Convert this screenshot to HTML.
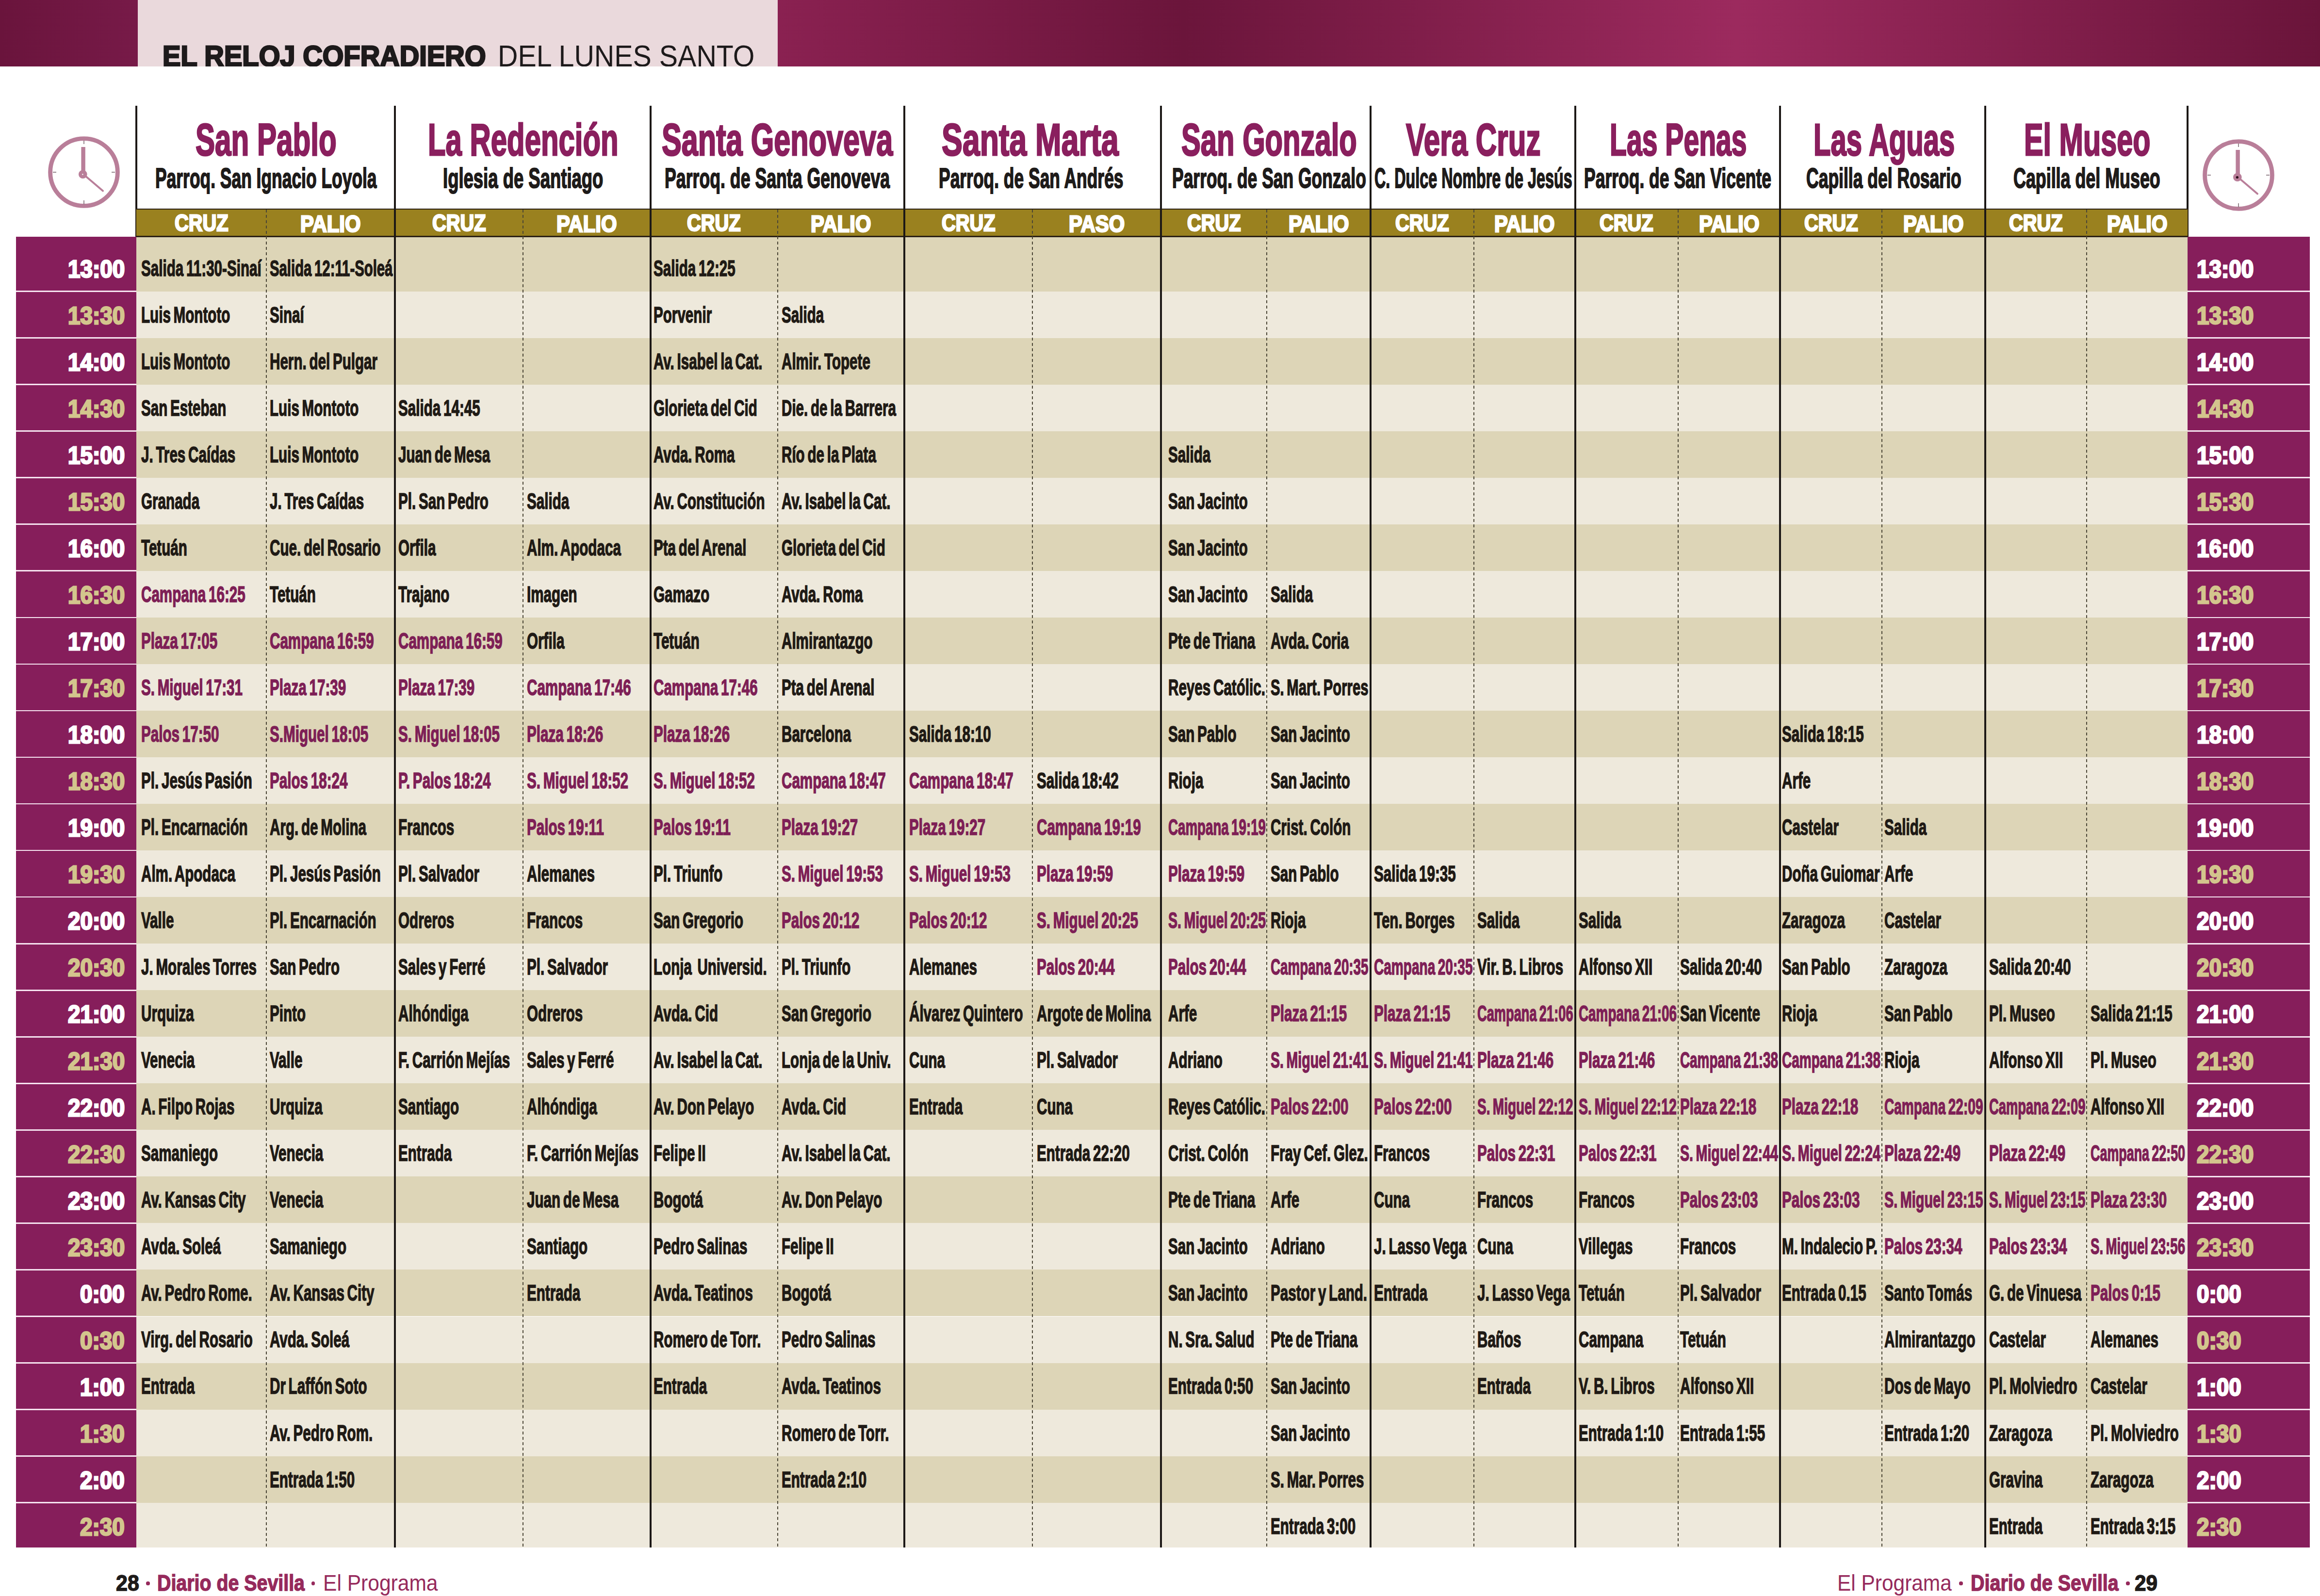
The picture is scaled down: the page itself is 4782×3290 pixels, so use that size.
<!DOCTYPE html><html><head><meta charset="utf-8"><title>El reloj cofradiero del Lunes Santo</title><style>
html,body{margin:0;padding:0;}
body{width:4782px;height:3290px;position:relative;overflow:hidden;background:#fff;font-family:"Liberation Sans", sans-serif;}
.t{position:absolute;white-space:pre;line-height:1;transform-origin:0 0;}
.r{position:absolute;}
.v{position:absolute;width:4px;background:#1c1816;}
.d{position:absolute;width:2px;background:repeating-linear-gradient(to bottom,#4a4535 0px,#4a4535 6px,transparent 6px,transparent 11px);}

</style></head><body>
<div class="r" style="left:0;top:0;width:4782px;height:137px;background:linear-gradient(to right,#8a2151 1603px,#6b153b 2440px,#9c2a5e 3580px,#6a143a 4782px);"></div>
<div class="r" style="left:0;top:0;width:284px;height:137px;background:linear-gradient(to right,#6a143c,#771a48);"></div>
<div class="r" style="left:284px;top:0;width:1319px;height:137px;background:#ead9dc;overflow:hidden;">
<div class="t" style="left:51.4px;top:86.1px;font-size:59.5px;color:#1d1a1b;font-weight:bold;transform:scaleX(0.9437);-webkit-text-stroke:3px #1d1a1b;">EL RELOJ COFRADIERO</div>
<div class="t" style="left:741.5px;top:83.7px;font-size:63px;color:#1d1a1b;font-weight:normal;transform:scaleX(0.9111);">DEL LUNES SANTO</div>
</div>
<div class="v" style="left:279.0px;top:218px;height:271.3px;"></div>
<div class="v" style="left:811.5px;top:218px;height:2972.0px;"></div>
<div class="v" style="left:1338.5px;top:218px;height:2972.0px;"></div>
<div class="v" style="left:1862.0px;top:218px;height:2972.0px;"></div>
<div class="v" style="left:2390.5px;top:218px;height:2972.0px;"></div>
<div class="v" style="left:2823.0px;top:218px;height:2972.0px;"></div>
<div class="v" style="left:3244.5px;top:218px;height:2972.0px;"></div>
<div class="v" style="left:3667.0px;top:218px;height:2972.0px;"></div>
<div class="v" style="left:4089.5px;top:218px;height:2972.0px;"></div>
<div class="v" style="left:4506.5px;top:218px;height:271.3px;"></div>
<div class="r" style="left:279.0px;top:429.7px;width:4231.5px;height:59.6px;background:#2a2014;"></div>
<div class="r" style="left:281.0px;top:432px;width:4227.5px;height:53.8px;background:#9a811f;"></div>
<div class="r" style="left:33px;top:487.5px;width:247.5px;height:2702.5px;background:#861e5b;"></div>
<div class="r" style="left:4508.5px;top:487.5px;width:252.5px;height:2702.5px;background:#861e5b;"></div>
<div class="r" style="left:281.0px;top:489.3px;width:4227.5px;height:111.3px;background:#ddd5b7;"></div>
<div class="r" style="left:281.0px;top:600.6px;width:4227.5px;height:96.0px;background:#eee9dc;"></div>
<div class="r" style="left:281.0px;top:696.6px;width:4227.5px;height:96.0px;background:#ddd5b7;"></div>
<div class="r" style="left:281.0px;top:792.7px;width:4227.5px;height:96.0px;background:#eee9dc;"></div>
<div class="r" style="left:281.0px;top:888.7px;width:4227.5px;height:96.0px;background:#ddd5b7;"></div>
<div class="r" style="left:281.0px;top:984.8px;width:4227.5px;height:96.0px;background:#eee9dc;"></div>
<div class="r" style="left:281.0px;top:1080.8px;width:4227.5px;height:96.0px;background:#ddd5b7;"></div>
<div class="r" style="left:281.0px;top:1176.8px;width:4227.5px;height:96.0px;background:#eee9dc;"></div>
<div class="r" style="left:281.0px;top:1272.9px;width:4227.5px;height:96.0px;background:#ddd5b7;"></div>
<div class="r" style="left:281.0px;top:1368.9px;width:4227.5px;height:96.0px;background:#eee9dc;"></div>
<div class="r" style="left:281.0px;top:1465.0px;width:4227.5px;height:96.0px;background:#ddd5b7;"></div>
<div class="r" style="left:281.0px;top:1561.0px;width:4227.5px;height:96.0px;background:#eee9dc;"></div>
<div class="r" style="left:281.0px;top:1657.0px;width:4227.5px;height:96.0px;background:#ddd5b7;"></div>
<div class="r" style="left:281.0px;top:1753.1px;width:4227.5px;height:96.0px;background:#eee9dc;"></div>
<div class="r" style="left:281.0px;top:1849.1px;width:4227.5px;height:96.0px;background:#ddd5b7;"></div>
<div class="r" style="left:281.0px;top:1945.2px;width:4227.5px;height:96.0px;background:#eee9dc;"></div>
<div class="r" style="left:281.0px;top:2041.2px;width:4227.5px;height:96.0px;background:#ddd5b7;"></div>
<div class="r" style="left:281.0px;top:2137.2px;width:4227.5px;height:96.0px;background:#eee9dc;"></div>
<div class="r" style="left:281.0px;top:2233.3px;width:4227.5px;height:96.0px;background:#ddd5b7;"></div>
<div class="r" style="left:281.0px;top:2329.3px;width:4227.5px;height:96.0px;background:#eee9dc;"></div>
<div class="r" style="left:281.0px;top:2425.4px;width:4227.5px;height:96.0px;background:#ddd5b7;"></div>
<div class="r" style="left:281.0px;top:2521.4px;width:4227.5px;height:96.0px;background:#eee9dc;"></div>
<div class="r" style="left:281.0px;top:2617.4px;width:4227.5px;height:96.0px;background:#ddd5b7;"></div>
<div class="r" style="left:281.0px;top:2713.5px;width:4227.5px;height:96.0px;background:#eee9dc;"></div>
<div class="r" style="left:281.0px;top:2809.5px;width:4227.5px;height:96.0px;background:#ddd5b7;"></div>
<div class="r" style="left:281.0px;top:2905.6px;width:4227.5px;height:96.0px;background:#eee9dc;"></div>
<div class="r" style="left:281.0px;top:3001.6px;width:4227.5px;height:96.0px;background:#ddd5b7;"></div>
<div class="r" style="left:281.0px;top:3097.6px;width:4227.5px;height:92.4px;background:#eee9dc;"></div>
<div class="r" style="left:33px;top:599.2px;width:247.5px;height:2.8px;background:#f6e4f0;"></div>
<div class="r" style="left:4508.5px;top:599.2px;width:252.5px;height:2.8px;background:#f6e4f0;"></div>
<div class="r" style="left:33px;top:695.2px;width:247.5px;height:2.8px;background:#f6e4f0;"></div>
<div class="r" style="left:4508.5px;top:695.2px;width:252.5px;height:2.8px;background:#f6e4f0;"></div>
<div class="r" style="left:33px;top:791.3px;width:247.5px;height:2.8px;background:#f6e4f0;"></div>
<div class="r" style="left:4508.5px;top:791.3px;width:252.5px;height:2.8px;background:#f6e4f0;"></div>
<div class="r" style="left:33px;top:887.3px;width:247.5px;height:2.8px;background:#f6e4f0;"></div>
<div class="r" style="left:4508.5px;top:887.3px;width:252.5px;height:2.8px;background:#f6e4f0;"></div>
<div class="r" style="left:33px;top:983.4px;width:247.5px;height:2.8px;background:#f6e4f0;"></div>
<div class="r" style="left:4508.5px;top:983.4px;width:252.5px;height:2.8px;background:#f6e4f0;"></div>
<div class="r" style="left:33px;top:1079.4px;width:247.5px;height:2.8px;background:#f6e4f0;"></div>
<div class="r" style="left:4508.5px;top:1079.4px;width:252.5px;height:2.8px;background:#f6e4f0;"></div>
<div class="r" style="left:33px;top:1175.4px;width:247.5px;height:2.8px;background:#f6e4f0;"></div>
<div class="r" style="left:4508.5px;top:1175.4px;width:252.5px;height:2.8px;background:#f6e4f0;"></div>
<div class="r" style="left:33px;top:1271.5px;width:247.5px;height:2.8px;background:#f6e4f0;"></div>
<div class="r" style="left:4508.5px;top:1271.5px;width:252.5px;height:2.8px;background:#f6e4f0;"></div>
<div class="r" style="left:33px;top:1367.5px;width:247.5px;height:2.8px;background:#f6e4f0;"></div>
<div class="r" style="left:4508.5px;top:1367.5px;width:252.5px;height:2.8px;background:#f6e4f0;"></div>
<div class="r" style="left:33px;top:1463.6px;width:247.5px;height:2.8px;background:#f6e4f0;"></div>
<div class="r" style="left:4508.5px;top:1463.6px;width:252.5px;height:2.8px;background:#f6e4f0;"></div>
<div class="r" style="left:33px;top:1559.6px;width:247.5px;height:2.8px;background:#f6e4f0;"></div>
<div class="r" style="left:4508.5px;top:1559.6px;width:252.5px;height:2.8px;background:#f6e4f0;"></div>
<div class="r" style="left:33px;top:1655.6px;width:247.5px;height:2.8px;background:#f6e4f0;"></div>
<div class="r" style="left:4508.5px;top:1655.6px;width:252.5px;height:2.8px;background:#f6e4f0;"></div>
<div class="r" style="left:33px;top:1751.7px;width:247.5px;height:2.8px;background:#f6e4f0;"></div>
<div class="r" style="left:4508.5px;top:1751.7px;width:252.5px;height:2.8px;background:#f6e4f0;"></div>
<div class="r" style="left:33px;top:1847.7px;width:247.5px;height:2.8px;background:#f6e4f0;"></div>
<div class="r" style="left:4508.5px;top:1847.7px;width:252.5px;height:2.8px;background:#f6e4f0;"></div>
<div class="r" style="left:33px;top:1943.8px;width:247.5px;height:2.8px;background:#f6e4f0;"></div>
<div class="r" style="left:4508.5px;top:1943.8px;width:252.5px;height:2.8px;background:#f6e4f0;"></div>
<div class="r" style="left:33px;top:2039.8px;width:247.5px;height:2.8px;background:#f6e4f0;"></div>
<div class="r" style="left:4508.5px;top:2039.8px;width:252.5px;height:2.8px;background:#f6e4f0;"></div>
<div class="r" style="left:33px;top:2135.8px;width:247.5px;height:2.8px;background:#f6e4f0;"></div>
<div class="r" style="left:4508.5px;top:2135.8px;width:252.5px;height:2.8px;background:#f6e4f0;"></div>
<div class="r" style="left:33px;top:2231.9px;width:247.5px;height:2.8px;background:#f6e4f0;"></div>
<div class="r" style="left:4508.5px;top:2231.9px;width:252.5px;height:2.8px;background:#f6e4f0;"></div>
<div class="r" style="left:33px;top:2327.9px;width:247.5px;height:2.8px;background:#f6e4f0;"></div>
<div class="r" style="left:4508.5px;top:2327.9px;width:252.5px;height:2.8px;background:#f6e4f0;"></div>
<div class="r" style="left:33px;top:2424.0px;width:247.5px;height:2.8px;background:#f6e4f0;"></div>
<div class="r" style="left:4508.5px;top:2424.0px;width:252.5px;height:2.8px;background:#f6e4f0;"></div>
<div class="r" style="left:33px;top:2520.0px;width:247.5px;height:2.8px;background:#f6e4f0;"></div>
<div class="r" style="left:4508.5px;top:2520.0px;width:252.5px;height:2.8px;background:#f6e4f0;"></div>
<div class="r" style="left:33px;top:2616.0px;width:247.5px;height:2.8px;background:#f6e4f0;"></div>
<div class="r" style="left:4508.5px;top:2616.0px;width:252.5px;height:2.8px;background:#f6e4f0;"></div>
<div class="r" style="left:33px;top:2712.1px;width:247.5px;height:2.8px;background:#f6e4f0;"></div>
<div class="r" style="left:4508.5px;top:2712.1px;width:252.5px;height:2.8px;background:#f6e4f0;"></div>
<div class="r" style="left:33px;top:2808.1px;width:247.5px;height:2.8px;background:#f6e4f0;"></div>
<div class="r" style="left:4508.5px;top:2808.1px;width:252.5px;height:2.8px;background:#f6e4f0;"></div>
<div class="r" style="left:33px;top:2904.2px;width:247.5px;height:2.8px;background:#f6e4f0;"></div>
<div class="r" style="left:4508.5px;top:2904.2px;width:252.5px;height:2.8px;background:#f6e4f0;"></div>
<div class="r" style="left:33px;top:3000.2px;width:247.5px;height:2.8px;background:#f6e4f0;"></div>
<div class="r" style="left:4508.5px;top:3000.2px;width:252.5px;height:2.8px;background:#f6e4f0;"></div>
<div class="r" style="left:33px;top:3096.2px;width:247.5px;height:2.8px;background:#f6e4f0;"></div>
<div class="r" style="left:4508.5px;top:3096.2px;width:252.5px;height:2.8px;background:#f6e4f0;"></div>
<div class="v" style="left:811.5px;top:429.7px;height:2760.3px;"></div>
<div class="v" style="left:1338.5px;top:429.7px;height:2760.3px;"></div>
<div class="v" style="left:1862.0px;top:429.7px;height:2760.3px;"></div>
<div class="v" style="left:2390.5px;top:429.7px;height:2760.3px;"></div>
<div class="v" style="left:2823.0px;top:429.7px;height:2760.3px;"></div>
<div class="v" style="left:3244.5px;top:429.7px;height:2760.3px;"></div>
<div class="v" style="left:3667.0px;top:429.7px;height:2760.3px;"></div>
<div class="v" style="left:4089.5px;top:429.7px;height:2760.3px;"></div>
<div class="d" style="left:547.5px;top:432px;height:2758.0px;"></div>
<div class="d" style="left:1077.0px;top:432px;height:2758.0px;"></div>
<div class="d" style="left:1601.5px;top:432px;height:2758.0px;"></div>
<div class="d" style="left:2127.0px;top:432px;height:2758.0px;"></div>
<div class="d" style="left:2610.0px;top:432px;height:2758.0px;"></div>
<div class="d" style="left:3037.0px;top:432px;height:2758.0px;"></div>
<div class="d" style="left:3457.5px;top:432px;height:2758.0px;"></div>
<div class="d" style="left:3877.5px;top:432px;height:2758.0px;"></div>
<div class="d" style="left:4300.0px;top:432px;height:2758.0px;"></div>
<div class="t" style="left:403.0px;top:242.3px;font-size:93px;color:#8a1f5e;font-weight:bold;transform:scaleX(0.6464);-webkit-text-stroke:3px #8a1f5e;">San Pablo</div>
<div class="t" style="left:319.6px;top:338.2px;font-size:58px;color:#1e1b1a;font-weight:bold;transform:scaleX(0.6106);-webkit-text-stroke:2px #1e1b1a;">Parroq. San Ignacio Loyola</div>
<div class="t" style="left:359.5px;top:434.5px;font-size:49px;color:#ffffff;font-weight:bold;transform:scaleX(0.8124);-webkit-text-stroke:3px #ffffff;">CRUZ</div>
<div class="t" style="left:618.8px;top:437.0px;font-size:49px;color:#ffffff;font-weight:bold;transform:scaleX(0.8515);-webkit-text-stroke:3px #ffffff;">PALIO</div>
<div class="t" style="left:882.0px;top:242.3px;font-size:93px;color:#8a1f5e;font-weight:bold;transform:scaleX(0.6439);-webkit-text-stroke:3px #8a1f5e;">La Redención</div>
<div class="t" style="left:913.0px;top:338.2px;font-size:58px;color:#1e1b1a;font-weight:bold;transform:scaleX(0.6288);-webkit-text-stroke:2px #1e1b1a;">Iglesia de Santiago</div>
<div class="t" style="left:890.5px;top:434.5px;font-size:49px;color:#ffffff;font-weight:bold;transform:scaleX(0.8124);-webkit-text-stroke:3px #ffffff;">CRUZ</div>
<div class="t" style="left:1147.0px;top:437.0px;font-size:49px;color:#ffffff;font-weight:bold;transform:scaleX(0.8515);-webkit-text-stroke:3px #ffffff;">PALIO</div>
<div class="t" style="left:1364.0px;top:242.3px;font-size:93px;color:#8a1f5e;font-weight:bold;transform:scaleX(0.658);-webkit-text-stroke:3px #8a1f5e;">Santa Genoveva</div>
<div class="t" style="left:1370.3px;top:338.2px;font-size:58px;color:#1e1b1a;font-weight:bold;transform:scaleX(0.6153);-webkit-text-stroke:2px #1e1b1a;">Parroq. de Santa Genoveva</div>
<div class="t" style="left:1416.2px;top:434.5px;font-size:49px;color:#ffffff;font-weight:bold;transform:scaleX(0.8124);-webkit-text-stroke:3px #ffffff;">CRUZ</div>
<div class="t" style="left:1671.0px;top:437.0px;font-size:49px;color:#ffffff;font-weight:bold;transform:scaleX(0.8515);-webkit-text-stroke:3px #ffffff;">PALIO</div>
<div class="t" style="left:1940.8px;top:242.3px;font-size:93px;color:#8a1f5e;font-weight:bold;transform:scaleX(0.6918);-webkit-text-stroke:3px #8a1f5e;">Santa Marta</div>
<div class="t" style="left:1935.2px;top:338.2px;font-size:58px;color:#1e1b1a;font-weight:bold;transform:scaleX(0.6107);-webkit-text-stroke:2px #1e1b1a;">Parroq. de San Andrés</div>
<div class="t" style="left:1940.7px;top:434.5px;font-size:49px;color:#ffffff;font-weight:bold;transform:scaleX(0.8124);-webkit-text-stroke:3px #ffffff;">CRUZ</div>
<div class="t" style="left:2202.7px;top:437.0px;font-size:49px;color:#ffffff;font-weight:bold;transform:scaleX(0.8515);-webkit-text-stroke:3px #ffffff;">PASO</div>
<div class="t" style="left:2434.6px;top:242.3px;font-size:93px;color:#8a1f5e;font-weight:bold;transform:scaleX(0.6422);-webkit-text-stroke:3px #8a1f5e;">San Gonzalo</div>
<div class="t" style="left:2416.1px;top:338.2px;font-size:58px;color:#1e1b1a;font-weight:bold;transform:scaleX(0.6111);-webkit-text-stroke:2px #1e1b1a;">Parroq. de San Gonzalo</div>
<div class="t" style="left:2446.5px;top:434.5px;font-size:49px;color:#ffffff;font-weight:bold;transform:scaleX(0.8124);-webkit-text-stroke:3px #ffffff;">CRUZ</div>
<div class="t" style="left:2655.8px;top:437.0px;font-size:49px;color:#ffffff;font-weight:bold;transform:scaleX(0.8515);-webkit-text-stroke:3px #ffffff;">PALIO</div>
<div class="t" style="left:2897.6px;top:242.3px;font-size:93px;color:#8a1f5e;font-weight:bold;transform:scaleX(0.6468);-webkit-text-stroke:3px #8a1f5e;">Vera Cruz</div>
<div class="t" style="left:2832.6px;top:338.2px;font-size:58px;color:#1e1b1a;font-weight:bold;transform:scaleX(0.5571);-webkit-text-stroke:2px #1e1b1a;">C. Dulce Nombre de Jesús</div>
<div class="t" style="left:2876.2px;top:434.5px;font-size:49px;color:#ffffff;font-weight:bold;transform:scaleX(0.8124);-webkit-text-stroke:3px #ffffff;">CRUZ</div>
<div class="t" style="left:3080.0px;top:437.0px;font-size:49px;color:#ffffff;font-weight:bold;transform:scaleX(0.8515);-webkit-text-stroke:3px #ffffff;">PALIO</div>
<div class="t" style="left:3317.7px;top:242.3px;font-size:93px;color:#8a1f5e;font-weight:bold;transform:scaleX(0.6143);-webkit-text-stroke:3px #8a1f5e;">Las Penas</div>
<div class="t" style="left:3264.9px;top:338.2px;font-size:58px;color:#1e1b1a;font-weight:bold;transform:scaleX(0.6119);-webkit-text-stroke:2px #1e1b1a;">Parroq. de San Vicente</div>
<div class="t" style="left:3297.2px;top:434.5px;font-size:49px;color:#ffffff;font-weight:bold;transform:scaleX(0.8124);-webkit-text-stroke:3px #ffffff;">CRUZ</div>
<div class="t" style="left:3501.5px;top:437.0px;font-size:49px;color:#ffffff;font-weight:bold;transform:scaleX(0.8515);-webkit-text-stroke:3px #ffffff;">PALIO</div>
<div class="t" style="left:3738.4px;top:242.3px;font-size:93px;color:#8a1f5e;font-weight:bold;transform:scaleX(0.6236);-webkit-text-stroke:3px #8a1f5e;">Las Aguas</div>
<div class="t" style="left:3722.6px;top:338.2px;font-size:58px;color:#1e1b1a;font-weight:bold;transform:scaleX(0.6124);-webkit-text-stroke:2px #1e1b1a;">Capilla del Rosario</div>
<div class="t" style="left:3718.5px;top:434.5px;font-size:49px;color:#ffffff;font-weight:bold;transform:scaleX(0.8124);-webkit-text-stroke:3px #ffffff;">CRUZ</div>
<div class="t" style="left:3922.8px;top:437.0px;font-size:49px;color:#ffffff;font-weight:bold;transform:scaleX(0.8515);-webkit-text-stroke:3px #ffffff;">PALIO</div>
<div class="t" style="left:4171.6px;top:242.3px;font-size:93px;color:#8a1f5e;font-weight:bold;transform:scaleX(0.638);-webkit-text-stroke:3px #8a1f5e;">El Museo</div>
<div class="t" style="left:4149.6px;top:338.2px;font-size:58px;color:#1e1b1a;font-weight:bold;transform:scaleX(0.6179);-webkit-text-stroke:2px #1e1b1a;">Capilla del Museo</div>
<div class="t" style="left:4141.0px;top:434.5px;font-size:49px;color:#ffffff;font-weight:bold;transform:scaleX(0.8124);-webkit-text-stroke:3px #ffffff;">CRUZ</div>
<div class="t" style="left:4342.5px;top:437.0px;font-size:49px;color:#ffffff;font-weight:bold;transform:scaleX(0.8515);-webkit-text-stroke:3px #ffffff;">PALIO</div>
<div class="t" style="left:139.9px;top:529.8px;font-size:50px;color:#ffffff;font-weight:bold;transform:scaleX(0.9169);-webkit-text-stroke:3px #ffffff;">13:00</div>
<div class="t" style="left:4528.4px;top:529.8px;font-size:50px;color:#ffffff;font-weight:bold;transform:scaleX(0.9169);-webkit-text-stroke:3px #ffffff;">13:00</div>
<div class="t" style="left:139.9px;top:625.8px;font-size:50px;color:#d3c58d;font-weight:bold;transform:scaleX(0.9169);-webkit-text-stroke:3px #d3c58d;">13:30</div>
<div class="t" style="left:4528.4px;top:625.8px;font-size:50px;color:#d3c58d;font-weight:bold;transform:scaleX(0.9169);-webkit-text-stroke:3px #d3c58d;">13:30</div>
<div class="t" style="left:139.9px;top:721.9px;font-size:50px;color:#ffffff;font-weight:bold;transform:scaleX(0.9169);-webkit-text-stroke:3px #ffffff;">14:00</div>
<div class="t" style="left:4528.4px;top:721.9px;font-size:50px;color:#ffffff;font-weight:bold;transform:scaleX(0.9169);-webkit-text-stroke:3px #ffffff;">14:00</div>
<div class="t" style="left:139.9px;top:817.9px;font-size:50px;color:#d3c58d;font-weight:bold;transform:scaleX(0.9169);-webkit-text-stroke:3px #d3c58d;">14:30</div>
<div class="t" style="left:4528.4px;top:817.9px;font-size:50px;color:#d3c58d;font-weight:bold;transform:scaleX(0.9169);-webkit-text-stroke:3px #d3c58d;">14:30</div>
<div class="t" style="left:139.9px;top:913.9px;font-size:50px;color:#ffffff;font-weight:bold;transform:scaleX(0.9169);-webkit-text-stroke:3px #ffffff;">15:00</div>
<div class="t" style="left:4528.4px;top:913.9px;font-size:50px;color:#ffffff;font-weight:bold;transform:scaleX(0.9169);-webkit-text-stroke:3px #ffffff;">15:00</div>
<div class="t" style="left:139.9px;top:1010.0px;font-size:50px;color:#d3c58d;font-weight:bold;transform:scaleX(0.9169);-webkit-text-stroke:3px #d3c58d;">15:30</div>
<div class="t" style="left:4528.4px;top:1010.0px;font-size:50px;color:#d3c58d;font-weight:bold;transform:scaleX(0.9169);-webkit-text-stroke:3px #d3c58d;">15:30</div>
<div class="t" style="left:139.9px;top:1106.0px;font-size:50px;color:#ffffff;font-weight:bold;transform:scaleX(0.9169);-webkit-text-stroke:3px #ffffff;">16:00</div>
<div class="t" style="left:4528.4px;top:1106.0px;font-size:50px;color:#ffffff;font-weight:bold;transform:scaleX(0.9169);-webkit-text-stroke:3px #ffffff;">16:00</div>
<div class="t" style="left:139.9px;top:1202.1px;font-size:50px;color:#d3c58d;font-weight:bold;transform:scaleX(0.9169);-webkit-text-stroke:3px #d3c58d;">16:30</div>
<div class="t" style="left:4528.4px;top:1202.1px;font-size:50px;color:#d3c58d;font-weight:bold;transform:scaleX(0.9169);-webkit-text-stroke:3px #d3c58d;">16:30</div>
<div class="t" style="left:139.9px;top:1298.1px;font-size:50px;color:#ffffff;font-weight:bold;transform:scaleX(0.9169);-webkit-text-stroke:3px #ffffff;">17:00</div>
<div class="t" style="left:4528.4px;top:1298.1px;font-size:50px;color:#ffffff;font-weight:bold;transform:scaleX(0.9169);-webkit-text-stroke:3px #ffffff;">17:00</div>
<div class="t" style="left:139.9px;top:1394.1px;font-size:50px;color:#d3c58d;font-weight:bold;transform:scaleX(0.9169);-webkit-text-stroke:3px #d3c58d;">17:30</div>
<div class="t" style="left:4528.4px;top:1394.1px;font-size:50px;color:#d3c58d;font-weight:bold;transform:scaleX(0.9169);-webkit-text-stroke:3px #d3c58d;">17:30</div>
<div class="t" style="left:139.9px;top:1490.2px;font-size:50px;color:#ffffff;font-weight:bold;transform:scaleX(0.9169);-webkit-text-stroke:3px #ffffff;">18:00</div>
<div class="t" style="left:4528.4px;top:1490.2px;font-size:50px;color:#ffffff;font-weight:bold;transform:scaleX(0.9169);-webkit-text-stroke:3px #ffffff;">18:00</div>
<div class="t" style="left:139.9px;top:1586.2px;font-size:50px;color:#d3c58d;font-weight:bold;transform:scaleX(0.9169);-webkit-text-stroke:3px #d3c58d;">18:30</div>
<div class="t" style="left:4528.4px;top:1586.2px;font-size:50px;color:#d3c58d;font-weight:bold;transform:scaleX(0.9169);-webkit-text-stroke:3px #d3c58d;">18:30</div>
<div class="t" style="left:139.9px;top:1682.3px;font-size:50px;color:#ffffff;font-weight:bold;transform:scaleX(0.9169);-webkit-text-stroke:3px #ffffff;">19:00</div>
<div class="t" style="left:4528.4px;top:1682.3px;font-size:50px;color:#ffffff;font-weight:bold;transform:scaleX(0.9169);-webkit-text-stroke:3px #ffffff;">19:00</div>
<div class="t" style="left:139.9px;top:1778.3px;font-size:50px;color:#d3c58d;font-weight:bold;transform:scaleX(0.9169);-webkit-text-stroke:3px #d3c58d;">19:30</div>
<div class="t" style="left:4528.4px;top:1778.3px;font-size:50px;color:#d3c58d;font-weight:bold;transform:scaleX(0.9169);-webkit-text-stroke:3px #d3c58d;">19:30</div>
<div class="t" style="left:139.9px;top:1874.3px;font-size:50px;color:#ffffff;font-weight:bold;transform:scaleX(0.9169);-webkit-text-stroke:3px #ffffff;">20:00</div>
<div class="t" style="left:4528.4px;top:1874.3px;font-size:50px;color:#ffffff;font-weight:bold;transform:scaleX(0.9169);-webkit-text-stroke:3px #ffffff;">20:00</div>
<div class="t" style="left:139.9px;top:1970.4px;font-size:50px;color:#d3c58d;font-weight:bold;transform:scaleX(0.9169);-webkit-text-stroke:3px #d3c58d;">20:30</div>
<div class="t" style="left:4528.4px;top:1970.4px;font-size:50px;color:#d3c58d;font-weight:bold;transform:scaleX(0.9169);-webkit-text-stroke:3px #d3c58d;">20:30</div>
<div class="t" style="left:139.9px;top:2066.4px;font-size:50px;color:#ffffff;font-weight:bold;transform:scaleX(0.9169);-webkit-text-stroke:3px #ffffff;">21:00</div>
<div class="t" style="left:4528.4px;top:2066.4px;font-size:50px;color:#ffffff;font-weight:bold;transform:scaleX(0.9169);-webkit-text-stroke:3px #ffffff;">21:00</div>
<div class="t" style="left:139.9px;top:2162.5px;font-size:50px;color:#d3c58d;font-weight:bold;transform:scaleX(0.9169);-webkit-text-stroke:3px #d3c58d;">21:30</div>
<div class="t" style="left:4528.4px;top:2162.5px;font-size:50px;color:#d3c58d;font-weight:bold;transform:scaleX(0.9169);-webkit-text-stroke:3px #d3c58d;">21:30</div>
<div class="t" style="left:139.9px;top:2258.5px;font-size:50px;color:#ffffff;font-weight:bold;transform:scaleX(0.9169);-webkit-text-stroke:3px #ffffff;">22:00</div>
<div class="t" style="left:4528.4px;top:2258.5px;font-size:50px;color:#ffffff;font-weight:bold;transform:scaleX(0.9169);-webkit-text-stroke:3px #ffffff;">22:00</div>
<div class="t" style="left:139.9px;top:2354.5px;font-size:50px;color:#d3c58d;font-weight:bold;transform:scaleX(0.9169);-webkit-text-stroke:3px #d3c58d;">22:30</div>
<div class="t" style="left:4528.4px;top:2354.5px;font-size:50px;color:#d3c58d;font-weight:bold;transform:scaleX(0.9169);-webkit-text-stroke:3px #d3c58d;">22:30</div>
<div class="t" style="left:139.9px;top:2450.6px;font-size:50px;color:#ffffff;font-weight:bold;transform:scaleX(0.9169);-webkit-text-stroke:3px #ffffff;">23:00</div>
<div class="t" style="left:4528.4px;top:2450.6px;font-size:50px;color:#ffffff;font-weight:bold;transform:scaleX(0.9169);-webkit-text-stroke:3px #ffffff;">23:00</div>
<div class="t" style="left:139.9px;top:2546.6px;font-size:50px;color:#d3c58d;font-weight:bold;transform:scaleX(0.9169);-webkit-text-stroke:3px #d3c58d;">23:30</div>
<div class="t" style="left:4528.4px;top:2546.6px;font-size:50px;color:#d3c58d;font-weight:bold;transform:scaleX(0.9169);-webkit-text-stroke:3px #d3c58d;">23:30</div>
<div class="t" style="left:165.3px;top:2642.7px;font-size:50px;color:#ffffff;font-weight:bold;transform:scaleX(0.9169);-webkit-text-stroke:3px #ffffff;">0:00</div>
<div class="t" style="left:4528.4px;top:2642.7px;font-size:50px;color:#ffffff;font-weight:bold;transform:scaleX(0.9169);-webkit-text-stroke:3px #ffffff;">0:00</div>
<div class="t" style="left:165.3px;top:2738.7px;font-size:50px;color:#d3c58d;font-weight:bold;transform:scaleX(0.9169);-webkit-text-stroke:3px #d3c58d;">0:30</div>
<div class="t" style="left:4528.4px;top:2738.7px;font-size:50px;color:#d3c58d;font-weight:bold;transform:scaleX(0.9169);-webkit-text-stroke:3px #d3c58d;">0:30</div>
<div class="t" style="left:165.3px;top:2834.7px;font-size:50px;color:#ffffff;font-weight:bold;transform:scaleX(0.9169);-webkit-text-stroke:3px #ffffff;">1:00</div>
<div class="t" style="left:4528.4px;top:2834.7px;font-size:50px;color:#ffffff;font-weight:bold;transform:scaleX(0.9169);-webkit-text-stroke:3px #ffffff;">1:00</div>
<div class="t" style="left:165.3px;top:2930.8px;font-size:50px;color:#d3c58d;font-weight:bold;transform:scaleX(0.9169);-webkit-text-stroke:3px #d3c58d;">1:30</div>
<div class="t" style="left:4528.4px;top:2930.8px;font-size:50px;color:#d3c58d;font-weight:bold;transform:scaleX(0.9169);-webkit-text-stroke:3px #d3c58d;">1:30</div>
<div class="t" style="left:165.3px;top:3026.8px;font-size:50px;color:#ffffff;font-weight:bold;transform:scaleX(0.9169);-webkit-text-stroke:3px #ffffff;">2:00</div>
<div class="t" style="left:4528.4px;top:3026.8px;font-size:50px;color:#ffffff;font-weight:bold;transform:scaleX(0.9169);-webkit-text-stroke:3px #ffffff;">2:00</div>
<div class="t" style="left:165.3px;top:3122.9px;font-size:50px;color:#d3c58d;font-weight:bold;transform:scaleX(0.9169);-webkit-text-stroke:3px #d3c58d;">2:30</div>
<div class="t" style="left:4528.4px;top:3122.9px;font-size:50px;color:#d3c58d;font-weight:bold;transform:scaleX(0.9169);-webkit-text-stroke:3px #d3c58d;">2:30</div>
<div class="t" style="left:290.5px;top:529.5px;font-size:46.8px;color:#1f1a15;font-weight:bold;transform:scaleX(0.633);-webkit-text-stroke:1.6px #1f1a15;word-spacing:-4px;">Salida 11:30-Sinaí</div>
<div class="t" style="left:290.5px;top:625.5px;font-size:46.8px;color:#1f1a15;font-weight:bold;transform:scaleX(0.633);-webkit-text-stroke:1.6px #1f1a15;word-spacing:-4px;">Luis Montoto</div>
<div class="t" style="left:290.5px;top:721.6px;font-size:46.8px;color:#1f1a15;font-weight:bold;transform:scaleX(0.633);-webkit-text-stroke:1.6px #1f1a15;word-spacing:-4px;">Luis Montoto</div>
<div class="t" style="left:290.5px;top:817.6px;font-size:46.8px;color:#1f1a15;font-weight:bold;transform:scaleX(0.633);-webkit-text-stroke:1.6px #1f1a15;word-spacing:-4px;">San Esteban</div>
<div class="t" style="left:290.5px;top:913.6px;font-size:46.8px;color:#1f1a15;font-weight:bold;transform:scaleX(0.633);-webkit-text-stroke:1.6px #1f1a15;word-spacing:-4px;">J. Tres Caídas</div>
<div class="t" style="left:290.5px;top:1009.7px;font-size:46.8px;color:#1f1a15;font-weight:bold;transform:scaleX(0.633);-webkit-text-stroke:1.6px #1f1a15;word-spacing:-4px;">Granada</div>
<div class="t" style="left:290.5px;top:1105.7px;font-size:46.8px;color:#1f1a15;font-weight:bold;transform:scaleX(0.633);-webkit-text-stroke:1.6px #1f1a15;word-spacing:-4px;">Tetuán</div>
<div class="t" style="left:290.5px;top:1201.8px;font-size:46.8px;color:#7e1f56;font-weight:bold;transform:scaleX(0.633);-webkit-text-stroke:1.6px #7e1f56;word-spacing:-4px;">Campana 16:25</div>
<div class="t" style="left:290.5px;top:1297.8px;font-size:46.8px;color:#7e1f56;font-weight:bold;transform:scaleX(0.633);-webkit-text-stroke:1.6px #7e1f56;word-spacing:-4px;">Plaza 17:05</div>
<div class="t" style="left:290.5px;top:1393.8px;font-size:46.8px;color:#7e1f56;font-weight:bold;transform:scaleX(0.633);-webkit-text-stroke:1.6px #7e1f56;word-spacing:-4px;">S. Miguel 17:31</div>
<div class="t" style="left:290.5px;top:1489.9px;font-size:46.8px;color:#7e1f56;font-weight:bold;transform:scaleX(0.633);-webkit-text-stroke:1.6px #7e1f56;word-spacing:-4px;">Palos 17:50</div>
<div class="t" style="left:290.5px;top:1585.9px;font-size:46.8px;color:#1f1a15;font-weight:bold;transform:scaleX(0.633);-webkit-text-stroke:1.6px #1f1a15;word-spacing:-4px;">Pl. Jesús Pasión</div>
<div class="t" style="left:290.5px;top:1682.0px;font-size:46.8px;color:#1f1a15;font-weight:bold;transform:scaleX(0.633);-webkit-text-stroke:1.6px #1f1a15;word-spacing:-4px;">Pl. Encarnación</div>
<div class="t" style="left:290.5px;top:1778.0px;font-size:46.8px;color:#1f1a15;font-weight:bold;transform:scaleX(0.633);-webkit-text-stroke:1.6px #1f1a15;word-spacing:-4px;">Alm. Apodaca</div>
<div class="t" style="left:290.5px;top:1874.0px;font-size:46.8px;color:#1f1a15;font-weight:bold;transform:scaleX(0.633);-webkit-text-stroke:1.6px #1f1a15;word-spacing:-4px;">Valle</div>
<div class="t" style="left:290.5px;top:1970.1px;font-size:46.8px;color:#1f1a15;font-weight:bold;transform:scaleX(0.633);-webkit-text-stroke:1.6px #1f1a15;word-spacing:-4px;">J. Morales Torres</div>
<div class="t" style="left:290.5px;top:2066.1px;font-size:46.8px;color:#1f1a15;font-weight:bold;transform:scaleX(0.633);-webkit-text-stroke:1.6px #1f1a15;word-spacing:-4px;">Urquiza</div>
<div class="t" style="left:290.5px;top:2162.2px;font-size:46.8px;color:#1f1a15;font-weight:bold;transform:scaleX(0.633);-webkit-text-stroke:1.6px #1f1a15;word-spacing:-4px;">Venecia</div>
<div class="t" style="left:290.5px;top:2258.2px;font-size:46.8px;color:#1f1a15;font-weight:bold;transform:scaleX(0.633);-webkit-text-stroke:1.6px #1f1a15;word-spacing:-4px;">A. Filpo Rojas</div>
<div class="t" style="left:290.5px;top:2354.2px;font-size:46.8px;color:#1f1a15;font-weight:bold;transform:scaleX(0.633);-webkit-text-stroke:1.6px #1f1a15;word-spacing:-4px;">Samaniego</div>
<div class="t" style="left:290.5px;top:2450.3px;font-size:46.8px;color:#1f1a15;font-weight:bold;transform:scaleX(0.633);-webkit-text-stroke:1.6px #1f1a15;word-spacing:-4px;">Av. Kansas City</div>
<div class="t" style="left:290.5px;top:2546.3px;font-size:46.8px;color:#1f1a15;font-weight:bold;transform:scaleX(0.633);-webkit-text-stroke:1.6px #1f1a15;word-spacing:-4px;">Avda. Soleá</div>
<div class="t" style="left:290.5px;top:2642.4px;font-size:46.8px;color:#1f1a15;font-weight:bold;transform:scaleX(0.633);-webkit-text-stroke:1.6px #1f1a15;word-spacing:-4px;">Av. Pedro Rome.</div>
<div class="t" style="left:290.5px;top:2738.4px;font-size:46.8px;color:#1f1a15;font-weight:bold;transform:scaleX(0.633);-webkit-text-stroke:1.6px #1f1a15;word-spacing:-4px;">Virg. del Rosario</div>
<div class="t" style="left:290.5px;top:2834.4px;font-size:46.8px;color:#1f1a15;font-weight:bold;transform:scaleX(0.633);-webkit-text-stroke:1.6px #1f1a15;word-spacing:-4px;">Entrada</div>
<div class="t" style="left:555.5px;top:529.5px;font-size:46.8px;color:#1f1a15;font-weight:bold;transform:scaleX(0.6266);-webkit-text-stroke:1.6px #1f1a15;word-spacing:-4px;">Salida 12:11-Soleá</div>
<div class="t" style="left:555.5px;top:625.5px;font-size:46.8px;color:#1f1a15;font-weight:bold;transform:scaleX(0.633);-webkit-text-stroke:1.6px #1f1a15;word-spacing:-4px;">Sinaí</div>
<div class="t" style="left:555.5px;top:721.6px;font-size:46.8px;color:#1f1a15;font-weight:bold;transform:scaleX(0.633);-webkit-text-stroke:1.6px #1f1a15;word-spacing:-4px;">Hern. del Pulgar</div>
<div class="t" style="left:555.5px;top:817.6px;font-size:46.8px;color:#1f1a15;font-weight:bold;transform:scaleX(0.633);-webkit-text-stroke:1.6px #1f1a15;word-spacing:-4px;">Luis Montoto</div>
<div class="t" style="left:555.5px;top:913.6px;font-size:46.8px;color:#1f1a15;font-weight:bold;transform:scaleX(0.633);-webkit-text-stroke:1.6px #1f1a15;word-spacing:-4px;">Luis Montoto</div>
<div class="t" style="left:555.5px;top:1009.7px;font-size:46.8px;color:#1f1a15;font-weight:bold;transform:scaleX(0.633);-webkit-text-stroke:1.6px #1f1a15;word-spacing:-4px;">J. Tres Caídas</div>
<div class="t" style="left:555.5px;top:1105.7px;font-size:46.8px;color:#1f1a15;font-weight:bold;transform:scaleX(0.633);-webkit-text-stroke:1.6px #1f1a15;word-spacing:-4px;">Cue. del Rosario</div>
<div class="t" style="left:555.5px;top:1201.8px;font-size:46.8px;color:#1f1a15;font-weight:bold;transform:scaleX(0.633);-webkit-text-stroke:1.6px #1f1a15;word-spacing:-4px;">Tetuán</div>
<div class="t" style="left:555.5px;top:1297.8px;font-size:46.8px;color:#7e1f56;font-weight:bold;transform:scaleX(0.633);-webkit-text-stroke:1.6px #7e1f56;word-spacing:-4px;">Campana 16:59</div>
<div class="t" style="left:555.5px;top:1393.8px;font-size:46.8px;color:#7e1f56;font-weight:bold;transform:scaleX(0.633);-webkit-text-stroke:1.6px #7e1f56;word-spacing:-4px;">Plaza 17:39</div>
<div class="t" style="left:555.5px;top:1489.9px;font-size:46.8px;color:#7e1f56;font-weight:bold;transform:scaleX(0.633);-webkit-text-stroke:1.6px #7e1f56;word-spacing:-4px;">S.Miguel 18:05</div>
<div class="t" style="left:555.5px;top:1585.9px;font-size:46.8px;color:#7e1f56;font-weight:bold;transform:scaleX(0.633);-webkit-text-stroke:1.6px #7e1f56;word-spacing:-4px;">Palos 18:24</div>
<div class="t" style="left:555.5px;top:1682.0px;font-size:46.8px;color:#1f1a15;font-weight:bold;transform:scaleX(0.633);-webkit-text-stroke:1.6px #1f1a15;word-spacing:-4px;">Arg. de Molina</div>
<div class="t" style="left:555.5px;top:1778.0px;font-size:46.8px;color:#1f1a15;font-weight:bold;transform:scaleX(0.633);-webkit-text-stroke:1.6px #1f1a15;word-spacing:-4px;">Pl. Jesús Pasión</div>
<div class="t" style="left:555.5px;top:1874.0px;font-size:46.8px;color:#1f1a15;font-weight:bold;transform:scaleX(0.633);-webkit-text-stroke:1.6px #1f1a15;word-spacing:-4px;">Pl. Encarnación</div>
<div class="t" style="left:555.5px;top:1970.1px;font-size:46.8px;color:#1f1a15;font-weight:bold;transform:scaleX(0.633);-webkit-text-stroke:1.6px #1f1a15;word-spacing:-4px;">San Pedro</div>
<div class="t" style="left:555.5px;top:2066.1px;font-size:46.8px;color:#1f1a15;font-weight:bold;transform:scaleX(0.633);-webkit-text-stroke:1.6px #1f1a15;word-spacing:-4px;">Pinto</div>
<div class="t" style="left:555.5px;top:2162.2px;font-size:46.8px;color:#1f1a15;font-weight:bold;transform:scaleX(0.633);-webkit-text-stroke:1.6px #1f1a15;word-spacing:-4px;">Valle</div>
<div class="t" style="left:555.5px;top:2258.2px;font-size:46.8px;color:#1f1a15;font-weight:bold;transform:scaleX(0.633);-webkit-text-stroke:1.6px #1f1a15;word-spacing:-4px;">Urquiza</div>
<div class="t" style="left:555.5px;top:2354.2px;font-size:46.8px;color:#1f1a15;font-weight:bold;transform:scaleX(0.633);-webkit-text-stroke:1.6px #1f1a15;word-spacing:-4px;">Venecia</div>
<div class="t" style="left:555.5px;top:2450.3px;font-size:46.8px;color:#1f1a15;font-weight:bold;transform:scaleX(0.633);-webkit-text-stroke:1.6px #1f1a15;word-spacing:-4px;">Venecia</div>
<div class="t" style="left:555.5px;top:2546.3px;font-size:46.8px;color:#1f1a15;font-weight:bold;transform:scaleX(0.633);-webkit-text-stroke:1.6px #1f1a15;word-spacing:-4px;">Samaniego</div>
<div class="t" style="left:555.5px;top:2642.4px;font-size:46.8px;color:#1f1a15;font-weight:bold;transform:scaleX(0.633);-webkit-text-stroke:1.6px #1f1a15;word-spacing:-4px;">Av. Kansas City</div>
<div class="t" style="left:555.5px;top:2738.4px;font-size:46.8px;color:#1f1a15;font-weight:bold;transform:scaleX(0.633);-webkit-text-stroke:1.6px #1f1a15;word-spacing:-4px;">Avda. Soleá</div>
<div class="t" style="left:555.5px;top:2834.4px;font-size:46.8px;color:#1f1a15;font-weight:bold;transform:scaleX(0.633);-webkit-text-stroke:1.6px #1f1a15;word-spacing:-4px;">Dr Laffón Soto</div>
<div class="t" style="left:555.5px;top:2930.5px;font-size:46.8px;color:#1f1a15;font-weight:bold;transform:scaleX(0.633);-webkit-text-stroke:1.6px #1f1a15;word-spacing:-4px;">Av. Pedro Rom.</div>
<div class="t" style="left:555.5px;top:3026.5px;font-size:46.8px;color:#1f1a15;font-weight:bold;transform:scaleX(0.633);-webkit-text-stroke:1.6px #1f1a15;word-spacing:-4px;">Entrada 1:50</div>
<div class="t" style="left:821.0px;top:817.6px;font-size:46.8px;color:#1f1a15;font-weight:bold;transform:scaleX(0.633);-webkit-text-stroke:1.6px #1f1a15;word-spacing:-4px;">Salida 14:45</div>
<div class="t" style="left:821.0px;top:913.6px;font-size:46.8px;color:#1f1a15;font-weight:bold;transform:scaleX(0.633);-webkit-text-stroke:1.6px #1f1a15;word-spacing:-4px;">Juan de Mesa</div>
<div class="t" style="left:821.0px;top:1009.7px;font-size:46.8px;color:#1f1a15;font-weight:bold;transform:scaleX(0.633);-webkit-text-stroke:1.6px #1f1a15;word-spacing:-4px;">Pl. San Pedro</div>
<div class="t" style="left:821.0px;top:1105.7px;font-size:46.8px;color:#1f1a15;font-weight:bold;transform:scaleX(0.633);-webkit-text-stroke:1.6px #1f1a15;word-spacing:-4px;">Orfila</div>
<div class="t" style="left:821.0px;top:1201.8px;font-size:46.8px;color:#1f1a15;font-weight:bold;transform:scaleX(0.633);-webkit-text-stroke:1.6px #1f1a15;word-spacing:-4px;">Trajano</div>
<div class="t" style="left:821.0px;top:1297.8px;font-size:46.8px;color:#7e1f56;font-weight:bold;transform:scaleX(0.633);-webkit-text-stroke:1.6px #7e1f56;word-spacing:-4px;">Campana 16:59</div>
<div class="t" style="left:821.0px;top:1393.8px;font-size:46.8px;color:#7e1f56;font-weight:bold;transform:scaleX(0.633);-webkit-text-stroke:1.6px #7e1f56;word-spacing:-4px;">Plaza 17:39</div>
<div class="t" style="left:821.0px;top:1489.9px;font-size:46.8px;color:#7e1f56;font-weight:bold;transform:scaleX(0.633);-webkit-text-stroke:1.6px #7e1f56;word-spacing:-4px;">S. Miguel 18:05</div>
<div class="t" style="left:821.0px;top:1585.9px;font-size:46.8px;color:#7e1f56;font-weight:bold;transform:scaleX(0.633);-webkit-text-stroke:1.6px #7e1f56;word-spacing:-4px;">P. Palos 18:24</div>
<div class="t" style="left:821.0px;top:1682.0px;font-size:46.8px;color:#1f1a15;font-weight:bold;transform:scaleX(0.633);-webkit-text-stroke:1.6px #1f1a15;word-spacing:-4px;">Francos</div>
<div class="t" style="left:821.0px;top:1778.0px;font-size:46.8px;color:#1f1a15;font-weight:bold;transform:scaleX(0.633);-webkit-text-stroke:1.6px #1f1a15;word-spacing:-4px;">Pl. Salvador</div>
<div class="t" style="left:821.0px;top:1874.0px;font-size:46.8px;color:#1f1a15;font-weight:bold;transform:scaleX(0.633);-webkit-text-stroke:1.6px #1f1a15;word-spacing:-4px;">Odreros</div>
<div class="t" style="left:821.0px;top:1970.1px;font-size:46.8px;color:#1f1a15;font-weight:bold;transform:scaleX(0.633);-webkit-text-stroke:1.6px #1f1a15;word-spacing:-4px;">Sales y Ferré</div>
<div class="t" style="left:821.0px;top:2066.1px;font-size:46.8px;color:#1f1a15;font-weight:bold;transform:scaleX(0.633);-webkit-text-stroke:1.6px #1f1a15;word-spacing:-4px;">Alhóndiga</div>
<div class="t" style="left:821.0px;top:2162.2px;font-size:46.8px;color:#1f1a15;font-weight:bold;transform:scaleX(0.633);-webkit-text-stroke:1.6px #1f1a15;word-spacing:-4px;">F. Carrión Mejías</div>
<div class="t" style="left:821.0px;top:2258.2px;font-size:46.8px;color:#1f1a15;font-weight:bold;transform:scaleX(0.633);-webkit-text-stroke:1.6px #1f1a15;word-spacing:-4px;">Santiago</div>
<div class="t" style="left:821.0px;top:2354.2px;font-size:46.8px;color:#1f1a15;font-weight:bold;transform:scaleX(0.633);-webkit-text-stroke:1.6px #1f1a15;word-spacing:-4px;">Entrada</div>
<div class="t" style="left:1086.0px;top:1009.7px;font-size:46.8px;color:#1f1a15;font-weight:bold;transform:scaleX(0.633);-webkit-text-stroke:1.6px #1f1a15;word-spacing:-4px;">Salida</div>
<div class="t" style="left:1086.0px;top:1105.7px;font-size:46.8px;color:#1f1a15;font-weight:bold;transform:scaleX(0.633);-webkit-text-stroke:1.6px #1f1a15;word-spacing:-4px;">Alm. Apodaca</div>
<div class="t" style="left:1086.0px;top:1201.8px;font-size:46.8px;color:#1f1a15;font-weight:bold;transform:scaleX(0.633);-webkit-text-stroke:1.6px #1f1a15;word-spacing:-4px;">Imagen</div>
<div class="t" style="left:1086.0px;top:1297.8px;font-size:46.8px;color:#1f1a15;font-weight:bold;transform:scaleX(0.633);-webkit-text-stroke:1.6px #1f1a15;word-spacing:-4px;">Orfila</div>
<div class="t" style="left:1086.0px;top:1393.8px;font-size:46.8px;color:#7e1f56;font-weight:bold;transform:scaleX(0.633);-webkit-text-stroke:1.6px #7e1f56;word-spacing:-4px;">Campana 17:46</div>
<div class="t" style="left:1086.0px;top:1489.9px;font-size:46.8px;color:#7e1f56;font-weight:bold;transform:scaleX(0.633);-webkit-text-stroke:1.6px #7e1f56;word-spacing:-4px;">Plaza 18:26</div>
<div class="t" style="left:1086.0px;top:1585.9px;font-size:46.8px;color:#7e1f56;font-weight:bold;transform:scaleX(0.633);-webkit-text-stroke:1.6px #7e1f56;word-spacing:-4px;">S. Miguel 18:52</div>
<div class="t" style="left:1086.0px;top:1682.0px;font-size:46.8px;color:#7e1f56;font-weight:bold;transform:scaleX(0.633);-webkit-text-stroke:1.6px #7e1f56;word-spacing:-4px;">Palos 19:11</div>
<div class="t" style="left:1086.0px;top:1778.0px;font-size:46.8px;color:#1f1a15;font-weight:bold;transform:scaleX(0.633);-webkit-text-stroke:1.6px #1f1a15;word-spacing:-4px;">Alemanes</div>
<div class="t" style="left:1086.0px;top:1874.0px;font-size:46.8px;color:#1f1a15;font-weight:bold;transform:scaleX(0.633);-webkit-text-stroke:1.6px #1f1a15;word-spacing:-4px;">Francos</div>
<div class="t" style="left:1086.0px;top:1970.1px;font-size:46.8px;color:#1f1a15;font-weight:bold;transform:scaleX(0.633);-webkit-text-stroke:1.6px #1f1a15;word-spacing:-4px;">Pl. Salvador</div>
<div class="t" style="left:1086.0px;top:2066.1px;font-size:46.8px;color:#1f1a15;font-weight:bold;transform:scaleX(0.633);-webkit-text-stroke:1.6px #1f1a15;word-spacing:-4px;">Odreros</div>
<div class="t" style="left:1086.0px;top:2162.2px;font-size:46.8px;color:#1f1a15;font-weight:bold;transform:scaleX(0.633);-webkit-text-stroke:1.6px #1f1a15;word-spacing:-4px;">Sales y Ferré</div>
<div class="t" style="left:1086.0px;top:2258.2px;font-size:46.8px;color:#1f1a15;font-weight:bold;transform:scaleX(0.633);-webkit-text-stroke:1.6px #1f1a15;word-spacing:-4px;">Alhóndiga</div>
<div class="t" style="left:1086.0px;top:2354.2px;font-size:46.8px;color:#1f1a15;font-weight:bold;transform:scaleX(0.633);-webkit-text-stroke:1.6px #1f1a15;word-spacing:-4px;">F. Carrión Mejías</div>
<div class="t" style="left:1086.0px;top:2450.3px;font-size:46.8px;color:#1f1a15;font-weight:bold;transform:scaleX(0.633);-webkit-text-stroke:1.6px #1f1a15;word-spacing:-4px;">Juan de Mesa</div>
<div class="t" style="left:1086.0px;top:2546.3px;font-size:46.8px;color:#1f1a15;font-weight:bold;transform:scaleX(0.633);-webkit-text-stroke:1.6px #1f1a15;word-spacing:-4px;">Santiago</div>
<div class="t" style="left:1086.0px;top:2642.4px;font-size:46.8px;color:#1f1a15;font-weight:bold;transform:scaleX(0.633);-webkit-text-stroke:1.6px #1f1a15;word-spacing:-4px;">Entrada</div>
<div class="t" style="left:1347.0px;top:529.5px;font-size:46.8px;color:#1f1a15;font-weight:bold;transform:scaleX(0.633);-webkit-text-stroke:1.6px #1f1a15;word-spacing:-4px;">Salida 12:25</div>
<div class="t" style="left:1347.0px;top:625.5px;font-size:46.8px;color:#1f1a15;font-weight:bold;transform:scaleX(0.633);-webkit-text-stroke:1.6px #1f1a15;word-spacing:-4px;">Porvenir</div>
<div class="t" style="left:1347.0px;top:721.6px;font-size:46.8px;color:#1f1a15;font-weight:bold;transform:scaleX(0.633);-webkit-text-stroke:1.6px #1f1a15;word-spacing:-4px;">Av. Isabel la Cat.</div>
<div class="t" style="left:1347.0px;top:817.6px;font-size:46.8px;color:#1f1a15;font-weight:bold;transform:scaleX(0.633);-webkit-text-stroke:1.6px #1f1a15;word-spacing:-4px;">Glorieta del Cid</div>
<div class="t" style="left:1347.0px;top:913.6px;font-size:46.8px;color:#1f1a15;font-weight:bold;transform:scaleX(0.633);-webkit-text-stroke:1.6px #1f1a15;word-spacing:-4px;">Avda. Roma</div>
<div class="t" style="left:1347.0px;top:1009.7px;font-size:46.8px;color:#1f1a15;font-weight:bold;transform:scaleX(0.633);-webkit-text-stroke:1.6px #1f1a15;word-spacing:-4px;">Av. Constitución</div>
<div class="t" style="left:1347.0px;top:1105.7px;font-size:46.8px;color:#1f1a15;font-weight:bold;transform:scaleX(0.633);-webkit-text-stroke:1.6px #1f1a15;word-spacing:-4px;">Pta del Arenal</div>
<div class="t" style="left:1347.0px;top:1201.8px;font-size:46.8px;color:#1f1a15;font-weight:bold;transform:scaleX(0.633);-webkit-text-stroke:1.6px #1f1a15;word-spacing:-4px;">Gamazo</div>
<div class="t" style="left:1347.0px;top:1297.8px;font-size:46.8px;color:#1f1a15;font-weight:bold;transform:scaleX(0.633);-webkit-text-stroke:1.6px #1f1a15;word-spacing:-4px;">Tetuán</div>
<div class="t" style="left:1347.0px;top:1393.8px;font-size:46.8px;color:#7e1f56;font-weight:bold;transform:scaleX(0.633);-webkit-text-stroke:1.6px #7e1f56;word-spacing:-4px;">Campana 17:46</div>
<div class="t" style="left:1347.0px;top:1489.9px;font-size:46.8px;color:#7e1f56;font-weight:bold;transform:scaleX(0.633);-webkit-text-stroke:1.6px #7e1f56;word-spacing:-4px;">Plaza 18:26</div>
<div class="t" style="left:1347.0px;top:1585.9px;font-size:46.8px;color:#7e1f56;font-weight:bold;transform:scaleX(0.633);-webkit-text-stroke:1.6px #7e1f56;word-spacing:-4px;">S. Miguel 18:52</div>
<div class="t" style="left:1347.0px;top:1682.0px;font-size:46.8px;color:#7e1f56;font-weight:bold;transform:scaleX(0.633);-webkit-text-stroke:1.6px #7e1f56;word-spacing:-4px;">Palos 19:11</div>
<div class="t" style="left:1347.0px;top:1778.0px;font-size:46.8px;color:#1f1a15;font-weight:bold;transform:scaleX(0.633);-webkit-text-stroke:1.6px #1f1a15;word-spacing:-4px;">Pl. Triunfo</div>
<div class="t" style="left:1347.0px;top:1874.0px;font-size:46.8px;color:#1f1a15;font-weight:bold;transform:scaleX(0.633);-webkit-text-stroke:1.6px #1f1a15;word-spacing:-4px;">San Gregorio</div>
<div class="t" style="left:1347.0px;top:1970.1px;font-size:46.8px;color:#1f1a15;font-weight:bold;transform:scaleX(0.633);-webkit-text-stroke:1.6px #1f1a15;word-spacing:-4px;">Lonja  Universid.</div>
<div class="t" style="left:1347.0px;top:2066.1px;font-size:46.8px;color:#1f1a15;font-weight:bold;transform:scaleX(0.633);-webkit-text-stroke:1.6px #1f1a15;word-spacing:-4px;">Avda. Cid</div>
<div class="t" style="left:1347.0px;top:2162.2px;font-size:46.8px;color:#1f1a15;font-weight:bold;transform:scaleX(0.633);-webkit-text-stroke:1.6px #1f1a15;word-spacing:-4px;">Av. Isabel la Cat.</div>
<div class="t" style="left:1347.0px;top:2258.2px;font-size:46.8px;color:#1f1a15;font-weight:bold;transform:scaleX(0.633);-webkit-text-stroke:1.6px #1f1a15;word-spacing:-4px;">Av. Don Pelayo</div>
<div class="t" style="left:1347.0px;top:2354.2px;font-size:46.8px;color:#1f1a15;font-weight:bold;transform:scaleX(0.633);-webkit-text-stroke:1.6px #1f1a15;word-spacing:-4px;">Felipe II</div>
<div class="t" style="left:1347.0px;top:2450.3px;font-size:46.8px;color:#1f1a15;font-weight:bold;transform:scaleX(0.633);-webkit-text-stroke:1.6px #1f1a15;word-spacing:-4px;">Bogotá</div>
<div class="t" style="left:1347.0px;top:2546.3px;font-size:46.8px;color:#1f1a15;font-weight:bold;transform:scaleX(0.633);-webkit-text-stroke:1.6px #1f1a15;word-spacing:-4px;">Pedro Salinas</div>
<div class="t" style="left:1347.0px;top:2642.4px;font-size:46.8px;color:#1f1a15;font-weight:bold;transform:scaleX(0.633);-webkit-text-stroke:1.6px #1f1a15;word-spacing:-4px;">Avda. Teatinos</div>
<div class="t" style="left:1347.0px;top:2738.4px;font-size:46.8px;color:#1f1a15;font-weight:bold;transform:scaleX(0.633);-webkit-text-stroke:1.6px #1f1a15;word-spacing:-4px;">Romero de Torr.</div>
<div class="t" style="left:1347.0px;top:2834.4px;font-size:46.8px;color:#1f1a15;font-weight:bold;transform:scaleX(0.633);-webkit-text-stroke:1.6px #1f1a15;word-spacing:-4px;">Entrada</div>
<div class="t" style="left:1611.0px;top:625.5px;font-size:46.8px;color:#1f1a15;font-weight:bold;transform:scaleX(0.633);-webkit-text-stroke:1.6px #1f1a15;word-spacing:-4px;">Salida</div>
<div class="t" style="left:1611.0px;top:721.6px;font-size:46.8px;color:#1f1a15;font-weight:bold;transform:scaleX(0.633);-webkit-text-stroke:1.6px #1f1a15;word-spacing:-4px;">Almir. Topete</div>
<div class="t" style="left:1611.0px;top:817.6px;font-size:46.8px;color:#1f1a15;font-weight:bold;transform:scaleX(0.633);-webkit-text-stroke:1.6px #1f1a15;word-spacing:-4px;">Die. de la Barrera</div>
<div class="t" style="left:1611.0px;top:913.6px;font-size:46.8px;color:#1f1a15;font-weight:bold;transform:scaleX(0.633);-webkit-text-stroke:1.6px #1f1a15;word-spacing:-4px;">Río de la Plata</div>
<div class="t" style="left:1611.0px;top:1009.7px;font-size:46.8px;color:#1f1a15;font-weight:bold;transform:scaleX(0.633);-webkit-text-stroke:1.6px #1f1a15;word-spacing:-4px;">Av. Isabel la Cat.</div>
<div class="t" style="left:1611.0px;top:1105.7px;font-size:46.8px;color:#1f1a15;font-weight:bold;transform:scaleX(0.633);-webkit-text-stroke:1.6px #1f1a15;word-spacing:-4px;">Glorieta del Cid</div>
<div class="t" style="left:1611.0px;top:1201.8px;font-size:46.8px;color:#1f1a15;font-weight:bold;transform:scaleX(0.633);-webkit-text-stroke:1.6px #1f1a15;word-spacing:-4px;">Avda. Roma</div>
<div class="t" style="left:1611.0px;top:1297.8px;font-size:46.8px;color:#1f1a15;font-weight:bold;transform:scaleX(0.633);-webkit-text-stroke:1.6px #1f1a15;word-spacing:-4px;">Almirantazgo</div>
<div class="t" style="left:1611.0px;top:1393.8px;font-size:46.8px;color:#1f1a15;font-weight:bold;transform:scaleX(0.633);-webkit-text-stroke:1.6px #1f1a15;word-spacing:-4px;">Pta del Arenal</div>
<div class="t" style="left:1611.0px;top:1489.9px;font-size:46.8px;color:#1f1a15;font-weight:bold;transform:scaleX(0.633);-webkit-text-stroke:1.6px #1f1a15;word-spacing:-4px;">Barcelona</div>
<div class="t" style="left:1611.0px;top:1585.9px;font-size:46.8px;color:#7e1f56;font-weight:bold;transform:scaleX(0.633);-webkit-text-stroke:1.6px #7e1f56;word-spacing:-4px;">Campana 18:47</div>
<div class="t" style="left:1611.0px;top:1682.0px;font-size:46.8px;color:#7e1f56;font-weight:bold;transform:scaleX(0.633);-webkit-text-stroke:1.6px #7e1f56;word-spacing:-4px;">Plaza 19:27</div>
<div class="t" style="left:1611.0px;top:1778.0px;font-size:46.8px;color:#7e1f56;font-weight:bold;transform:scaleX(0.633);-webkit-text-stroke:1.6px #7e1f56;word-spacing:-4px;">S. Miguel 19:53</div>
<div class="t" style="left:1611.0px;top:1874.0px;font-size:46.8px;color:#7e1f56;font-weight:bold;transform:scaleX(0.633);-webkit-text-stroke:1.6px #7e1f56;word-spacing:-4px;">Palos 20:12</div>
<div class="t" style="left:1611.0px;top:1970.1px;font-size:46.8px;color:#1f1a15;font-weight:bold;transform:scaleX(0.633);-webkit-text-stroke:1.6px #1f1a15;word-spacing:-4px;">Pl. Triunfo</div>
<div class="t" style="left:1611.0px;top:2066.1px;font-size:46.8px;color:#1f1a15;font-weight:bold;transform:scaleX(0.633);-webkit-text-stroke:1.6px #1f1a15;word-spacing:-4px;">San Gregorio</div>
<div class="t" style="left:1611.0px;top:2162.2px;font-size:46.8px;color:#1f1a15;font-weight:bold;transform:scaleX(0.633);-webkit-text-stroke:1.6px #1f1a15;word-spacing:-4px;">Lonja de la Univ.</div>
<div class="t" style="left:1611.0px;top:2258.2px;font-size:46.8px;color:#1f1a15;font-weight:bold;transform:scaleX(0.633);-webkit-text-stroke:1.6px #1f1a15;word-spacing:-4px;">Avda. Cid</div>
<div class="t" style="left:1611.0px;top:2354.2px;font-size:46.8px;color:#1f1a15;font-weight:bold;transform:scaleX(0.633);-webkit-text-stroke:1.6px #1f1a15;word-spacing:-4px;">Av. Isabel la Cat.</div>
<div class="t" style="left:1611.0px;top:2450.3px;font-size:46.8px;color:#1f1a15;font-weight:bold;transform:scaleX(0.633);-webkit-text-stroke:1.6px #1f1a15;word-spacing:-4px;">Av. Don Pelayo</div>
<div class="t" style="left:1611.0px;top:2546.3px;font-size:46.8px;color:#1f1a15;font-weight:bold;transform:scaleX(0.633);-webkit-text-stroke:1.6px #1f1a15;word-spacing:-4px;">Felipe II</div>
<div class="t" style="left:1611.0px;top:2642.4px;font-size:46.8px;color:#1f1a15;font-weight:bold;transform:scaleX(0.633);-webkit-text-stroke:1.6px #1f1a15;word-spacing:-4px;">Bogotá</div>
<div class="t" style="left:1611.0px;top:2738.4px;font-size:46.8px;color:#1f1a15;font-weight:bold;transform:scaleX(0.633);-webkit-text-stroke:1.6px #1f1a15;word-spacing:-4px;">Pedro Salinas</div>
<div class="t" style="left:1611.0px;top:2834.4px;font-size:46.8px;color:#1f1a15;font-weight:bold;transform:scaleX(0.633);-webkit-text-stroke:1.6px #1f1a15;word-spacing:-4px;">Avda. Teatinos</div>
<div class="t" style="left:1611.0px;top:2930.5px;font-size:46.8px;color:#1f1a15;font-weight:bold;transform:scaleX(0.633);-webkit-text-stroke:1.6px #1f1a15;word-spacing:-4px;">Romero de Torr.</div>
<div class="t" style="left:1611.0px;top:3026.5px;font-size:46.8px;color:#1f1a15;font-weight:bold;transform:scaleX(0.633);-webkit-text-stroke:1.6px #1f1a15;word-spacing:-4px;">Entrada 2:10</div>
<div class="t" style="left:1874.0px;top:1489.9px;font-size:46.8px;color:#1f1a15;font-weight:bold;transform:scaleX(0.633);-webkit-text-stroke:1.6px #1f1a15;word-spacing:-4px;">Salida 18:10</div>
<div class="t" style="left:1874.0px;top:1585.9px;font-size:46.8px;color:#7e1f56;font-weight:bold;transform:scaleX(0.633);-webkit-text-stroke:1.6px #7e1f56;word-spacing:-4px;">Campana 18:47</div>
<div class="t" style="left:1874.0px;top:1682.0px;font-size:46.8px;color:#7e1f56;font-weight:bold;transform:scaleX(0.633);-webkit-text-stroke:1.6px #7e1f56;word-spacing:-4px;">Plaza 19:27</div>
<div class="t" style="left:1874.0px;top:1778.0px;font-size:46.8px;color:#7e1f56;font-weight:bold;transform:scaleX(0.633);-webkit-text-stroke:1.6px #7e1f56;word-spacing:-4px;">S. Miguel 19:53</div>
<div class="t" style="left:1874.0px;top:1874.0px;font-size:46.8px;color:#7e1f56;font-weight:bold;transform:scaleX(0.633);-webkit-text-stroke:1.6px #7e1f56;word-spacing:-4px;">Palos 20:12</div>
<div class="t" style="left:1874.0px;top:1970.1px;font-size:46.8px;color:#1f1a15;font-weight:bold;transform:scaleX(0.633);-webkit-text-stroke:1.6px #1f1a15;word-spacing:-4px;">Alemanes</div>
<div class="t" style="left:1874.0px;top:2066.1px;font-size:46.8px;color:#1f1a15;font-weight:bold;transform:scaleX(0.633);-webkit-text-stroke:1.6px #1f1a15;word-spacing:-4px;">Álvarez Quintero</div>
<div class="t" style="left:1874.0px;top:2162.2px;font-size:46.8px;color:#1f1a15;font-weight:bold;transform:scaleX(0.633);-webkit-text-stroke:1.6px #1f1a15;word-spacing:-4px;">Cuna</div>
<div class="t" style="left:1874.0px;top:2258.2px;font-size:46.8px;color:#1f1a15;font-weight:bold;transform:scaleX(0.633);-webkit-text-stroke:1.6px #1f1a15;word-spacing:-4px;">Entrada</div>
<div class="t" style="left:2136.5px;top:1585.9px;font-size:46.8px;color:#1f1a15;font-weight:bold;transform:scaleX(0.633);-webkit-text-stroke:1.6px #1f1a15;word-spacing:-4px;">Salida 18:42</div>
<div class="t" style="left:2136.5px;top:1682.0px;font-size:46.8px;color:#7e1f56;font-weight:bold;transform:scaleX(0.633);-webkit-text-stroke:1.6px #7e1f56;word-spacing:-4px;">Campana 19:19</div>
<div class="t" style="left:2136.5px;top:1778.0px;font-size:46.8px;color:#7e1f56;font-weight:bold;transform:scaleX(0.633);-webkit-text-stroke:1.6px #7e1f56;word-spacing:-4px;">Plaza 19:59</div>
<div class="t" style="left:2136.5px;top:1874.0px;font-size:46.8px;color:#7e1f56;font-weight:bold;transform:scaleX(0.633);-webkit-text-stroke:1.6px #7e1f56;word-spacing:-4px;">S. Miguel 20:25</div>
<div class="t" style="left:2136.5px;top:1970.1px;font-size:46.8px;color:#7e1f56;font-weight:bold;transform:scaleX(0.633);-webkit-text-stroke:1.6px #7e1f56;word-spacing:-4px;">Palos 20:44</div>
<div class="t" style="left:2136.5px;top:2066.1px;font-size:46.8px;color:#1f1a15;font-weight:bold;transform:scaleX(0.633);-webkit-text-stroke:1.6px #1f1a15;word-spacing:-4px;">Argote de Molina</div>
<div class="t" style="left:2136.5px;top:2162.2px;font-size:46.8px;color:#1f1a15;font-weight:bold;transform:scaleX(0.633);-webkit-text-stroke:1.6px #1f1a15;word-spacing:-4px;">Pl. Salvador</div>
<div class="t" style="left:2136.5px;top:2258.2px;font-size:46.8px;color:#1f1a15;font-weight:bold;transform:scaleX(0.633);-webkit-text-stroke:1.6px #1f1a15;word-spacing:-4px;">Cuna</div>
<div class="t" style="left:2136.5px;top:2354.2px;font-size:46.8px;color:#1f1a15;font-weight:bold;transform:scaleX(0.633);-webkit-text-stroke:1.6px #1f1a15;word-spacing:-4px;">Entrada 22:20</div>
<div class="t" style="left:2407.5px;top:913.6px;font-size:46.8px;color:#1f1a15;font-weight:bold;transform:scaleX(0.633);-webkit-text-stroke:1.6px #1f1a15;word-spacing:-4px;">Salida</div>
<div class="t" style="left:2407.5px;top:1009.7px;font-size:46.8px;color:#1f1a15;font-weight:bold;transform:scaleX(0.633);-webkit-text-stroke:1.6px #1f1a15;word-spacing:-4px;">San Jacinto</div>
<div class="t" style="left:2407.5px;top:1105.7px;font-size:46.8px;color:#1f1a15;font-weight:bold;transform:scaleX(0.633);-webkit-text-stroke:1.6px #1f1a15;word-spacing:-4px;">San Jacinto</div>
<div class="t" style="left:2407.5px;top:1201.8px;font-size:46.8px;color:#1f1a15;font-weight:bold;transform:scaleX(0.633);-webkit-text-stroke:1.6px #1f1a15;word-spacing:-4px;">San Jacinto</div>
<div class="t" style="left:2407.5px;top:1297.8px;font-size:46.8px;color:#1f1a15;font-weight:bold;transform:scaleX(0.633);-webkit-text-stroke:1.6px #1f1a15;word-spacing:-4px;">Pte de Triana</div>
<div class="t" style="left:2407.5px;top:1393.8px;font-size:46.8px;color:#1f1a15;font-weight:bold;transform:scaleX(0.633);-webkit-text-stroke:1.6px #1f1a15;word-spacing:-4px;">Reyes Católic.</div>
<div class="t" style="left:2407.5px;top:1489.9px;font-size:46.8px;color:#1f1a15;font-weight:bold;transform:scaleX(0.633);-webkit-text-stroke:1.6px #1f1a15;word-spacing:-4px;">San Pablo</div>
<div class="t" style="left:2407.5px;top:1585.9px;font-size:46.8px;color:#1f1a15;font-weight:bold;transform:scaleX(0.633);-webkit-text-stroke:1.6px #1f1a15;word-spacing:-4px;">Rioja</div>
<div class="t" style="left:2407.5px;top:1682.0px;font-size:46.8px;color:#7e1f56;font-weight:bold;transform:scaleX(0.5924);-webkit-text-stroke:1.6px #7e1f56;word-spacing:-4px;">Campana 19:19</div>
<div class="t" style="left:2407.5px;top:1778.0px;font-size:46.8px;color:#7e1f56;font-weight:bold;transform:scaleX(0.633);-webkit-text-stroke:1.6px #7e1f56;word-spacing:-4px;">Plaza 19:59</div>
<div class="t" style="left:2407.5px;top:1874.0px;font-size:46.8px;color:#7e1f56;font-weight:bold;transform:scaleX(0.6089);-webkit-text-stroke:1.6px #7e1f56;word-spacing:-4px;">S. Miguel 20:25</div>
<div class="t" style="left:2407.5px;top:1970.1px;font-size:46.8px;color:#7e1f56;font-weight:bold;transform:scaleX(0.633);-webkit-text-stroke:1.6px #7e1f56;word-spacing:-4px;">Palos 20:44</div>
<div class="t" style="left:2407.5px;top:2066.1px;font-size:46.8px;color:#1f1a15;font-weight:bold;transform:scaleX(0.633);-webkit-text-stroke:1.6px #1f1a15;word-spacing:-4px;">Arfe</div>
<div class="t" style="left:2407.5px;top:2162.2px;font-size:46.8px;color:#1f1a15;font-weight:bold;transform:scaleX(0.633);-webkit-text-stroke:1.6px #1f1a15;word-spacing:-4px;">Adriano</div>
<div class="t" style="left:2407.5px;top:2258.2px;font-size:46.8px;color:#1f1a15;font-weight:bold;transform:scaleX(0.633);-webkit-text-stroke:1.6px #1f1a15;word-spacing:-4px;">Reyes Católic.</div>
<div class="t" style="left:2407.5px;top:2354.2px;font-size:46.8px;color:#1f1a15;font-weight:bold;transform:scaleX(0.633);-webkit-text-stroke:1.6px #1f1a15;word-spacing:-4px;">Crist. Colón</div>
<div class="t" style="left:2407.5px;top:2450.3px;font-size:46.8px;color:#1f1a15;font-weight:bold;transform:scaleX(0.633);-webkit-text-stroke:1.6px #1f1a15;word-spacing:-4px;">Pte de Triana</div>
<div class="t" style="left:2407.5px;top:2546.3px;font-size:46.8px;color:#1f1a15;font-weight:bold;transform:scaleX(0.633);-webkit-text-stroke:1.6px #1f1a15;word-spacing:-4px;">San Jacinto</div>
<div class="t" style="left:2407.5px;top:2642.4px;font-size:46.8px;color:#1f1a15;font-weight:bold;transform:scaleX(0.633);-webkit-text-stroke:1.6px #1f1a15;word-spacing:-4px;">San Jacinto</div>
<div class="t" style="left:2407.5px;top:2738.4px;font-size:46.8px;color:#1f1a15;font-weight:bold;transform:scaleX(0.633);-webkit-text-stroke:1.6px #1f1a15;word-spacing:-4px;">N. Sra. Salud</div>
<div class="t" style="left:2407.5px;top:2834.4px;font-size:46.8px;color:#1f1a15;font-weight:bold;transform:scaleX(0.633);-webkit-text-stroke:1.6px #1f1a15;word-spacing:-4px;">Entrada 0:50</div>
<div class="t" style="left:2619.0px;top:1201.8px;font-size:46.8px;color:#1f1a15;font-weight:bold;transform:scaleX(0.633);-webkit-text-stroke:1.6px #1f1a15;word-spacing:-4px;">Salida</div>
<div class="t" style="left:2619.0px;top:1297.8px;font-size:46.8px;color:#1f1a15;font-weight:bold;transform:scaleX(0.633);-webkit-text-stroke:1.6px #1f1a15;word-spacing:-4px;">Avda. Coria</div>
<div class="t" style="left:2619.0px;top:1393.8px;font-size:46.8px;color:#1f1a15;font-weight:bold;transform:scaleX(0.6252);-webkit-text-stroke:1.6px #1f1a15;word-spacing:-4px;">S. Mart. Porres</div>
<div class="t" style="left:2619.0px;top:1489.9px;font-size:46.8px;color:#1f1a15;font-weight:bold;transform:scaleX(0.633);-webkit-text-stroke:1.6px #1f1a15;word-spacing:-4px;">San Jacinto</div>
<div class="t" style="left:2619.0px;top:1585.9px;font-size:46.8px;color:#1f1a15;font-weight:bold;transform:scaleX(0.633);-webkit-text-stroke:1.6px #1f1a15;word-spacing:-4px;">San Jacinto</div>
<div class="t" style="left:2619.0px;top:1682.0px;font-size:46.8px;color:#1f1a15;font-weight:bold;transform:scaleX(0.633);-webkit-text-stroke:1.6px #1f1a15;word-spacing:-4px;">Crist. Colón</div>
<div class="t" style="left:2619.0px;top:1778.0px;font-size:46.8px;color:#1f1a15;font-weight:bold;transform:scaleX(0.633);-webkit-text-stroke:1.6px #1f1a15;word-spacing:-4px;">San Pablo</div>
<div class="t" style="left:2619.0px;top:1874.0px;font-size:46.8px;color:#1f1a15;font-weight:bold;transform:scaleX(0.633);-webkit-text-stroke:1.6px #1f1a15;word-spacing:-4px;">Rioja</div>
<div class="t" style="left:2619.0px;top:1970.1px;font-size:46.8px;color:#7e1f56;font-weight:bold;transform:scaleX(0.5939);-webkit-text-stroke:1.6px #7e1f56;word-spacing:-4px;">Campana 20:35</div>
<div class="t" style="left:2619.0px;top:2066.1px;font-size:46.8px;color:#7e1f56;font-weight:bold;transform:scaleX(0.633);-webkit-text-stroke:1.6px #7e1f56;word-spacing:-4px;">Plaza 21:15</div>
<div class="t" style="left:2619.0px;top:2162.2px;font-size:46.8px;color:#7e1f56;font-weight:bold;transform:scaleX(0.6104);-webkit-text-stroke:1.6px #7e1f56;word-spacing:-4px;">S. Miguel 21:41</div>
<div class="t" style="left:2619.0px;top:2258.2px;font-size:46.8px;color:#7e1f56;font-weight:bold;transform:scaleX(0.633);-webkit-text-stroke:1.6px #7e1f56;word-spacing:-4px;">Palos 22:00</div>
<div class="t" style="left:2619.0px;top:2354.2px;font-size:46.8px;color:#1f1a15;font-weight:bold;transform:scaleX(0.633);-webkit-text-stroke:1.6px #1f1a15;word-spacing:-4px;">Fray Cef. Glez.</div>
<div class="t" style="left:2619.0px;top:2450.3px;font-size:46.8px;color:#1f1a15;font-weight:bold;transform:scaleX(0.633);-webkit-text-stroke:1.6px #1f1a15;word-spacing:-4px;">Arfe</div>
<div class="t" style="left:2619.0px;top:2546.3px;font-size:46.8px;color:#1f1a15;font-weight:bold;transform:scaleX(0.633);-webkit-text-stroke:1.6px #1f1a15;word-spacing:-4px;">Adriano</div>
<div class="t" style="left:2619.0px;top:2642.4px;font-size:46.8px;color:#1f1a15;font-weight:bold;transform:scaleX(0.633);-webkit-text-stroke:1.6px #1f1a15;word-spacing:-4px;">Pastor y Land.</div>
<div class="t" style="left:2619.0px;top:2738.4px;font-size:46.8px;color:#1f1a15;font-weight:bold;transform:scaleX(0.633);-webkit-text-stroke:1.6px #1f1a15;word-spacing:-4px;">Pte de Triana</div>
<div class="t" style="left:2619.0px;top:2834.4px;font-size:46.8px;color:#1f1a15;font-weight:bold;transform:scaleX(0.633);-webkit-text-stroke:1.6px #1f1a15;word-spacing:-4px;">San Jacinto</div>
<div class="t" style="left:2619.0px;top:2930.5px;font-size:46.8px;color:#1f1a15;font-weight:bold;transform:scaleX(0.633);-webkit-text-stroke:1.6px #1f1a15;word-spacing:-4px;">San Jacinto</div>
<div class="t" style="left:2619.0px;top:3026.5px;font-size:46.8px;color:#1f1a15;font-weight:bold;transform:scaleX(0.633);-webkit-text-stroke:1.6px #1f1a15;word-spacing:-4px;">S. Mar. Porres</div>
<div class="t" style="left:2619.0px;top:3122.6px;font-size:46.8px;color:#1f1a15;font-weight:bold;transform:scaleX(0.633);-webkit-text-stroke:1.6px #1f1a15;word-spacing:-4px;">Entrada 3:00</div>
<div class="t" style="left:2832.0px;top:1778.0px;font-size:46.8px;color:#1f1a15;font-weight:bold;transform:scaleX(0.633);-webkit-text-stroke:1.6px #1f1a15;word-spacing:-4px;">Salida 19:35</div>
<div class="t" style="left:2832.0px;top:1874.0px;font-size:46.8px;color:#1f1a15;font-weight:bold;transform:scaleX(0.633);-webkit-text-stroke:1.6px #1f1a15;word-spacing:-4px;">Ten. Borges</div>
<div class="t" style="left:2832.0px;top:1970.1px;font-size:46.8px;color:#7e1f56;font-weight:bold;transform:scaleX(0.5997);-webkit-text-stroke:1.6px #7e1f56;word-spacing:-4px;">Campana 20:35</div>
<div class="t" style="left:2832.0px;top:2066.1px;font-size:46.8px;color:#7e1f56;font-weight:bold;transform:scaleX(0.633);-webkit-text-stroke:1.6px #7e1f56;word-spacing:-4px;">Plaza 21:15</div>
<div class="t" style="left:2832.0px;top:2162.2px;font-size:46.8px;color:#7e1f56;font-weight:bold;transform:scaleX(0.6165);-webkit-text-stroke:1.6px #7e1f56;word-spacing:-4px;">S. Miguel 21:41</div>
<div class="t" style="left:2832.0px;top:2258.2px;font-size:46.8px;color:#7e1f56;font-weight:bold;transform:scaleX(0.633);-webkit-text-stroke:1.6px #7e1f56;word-spacing:-4px;">Palos 22:00</div>
<div class="t" style="left:2832.0px;top:2354.2px;font-size:46.8px;color:#1f1a15;font-weight:bold;transform:scaleX(0.633);-webkit-text-stroke:1.6px #1f1a15;word-spacing:-4px;">Francos</div>
<div class="t" style="left:2832.0px;top:2450.3px;font-size:46.8px;color:#1f1a15;font-weight:bold;transform:scaleX(0.633);-webkit-text-stroke:1.6px #1f1a15;word-spacing:-4px;">Cuna</div>
<div class="t" style="left:2832.0px;top:2546.3px;font-size:46.8px;color:#1f1a15;font-weight:bold;transform:scaleX(0.633);-webkit-text-stroke:1.6px #1f1a15;word-spacing:-4px;">J. Lasso Vega</div>
<div class="t" style="left:2832.0px;top:2642.4px;font-size:46.8px;color:#1f1a15;font-weight:bold;transform:scaleX(0.633);-webkit-text-stroke:1.6px #1f1a15;word-spacing:-4px;">Entrada</div>
<div class="t" style="left:3044.5px;top:1874.0px;font-size:46.8px;color:#1f1a15;font-weight:bold;transform:scaleX(0.633);-webkit-text-stroke:1.6px #1f1a15;word-spacing:-4px;">Salida</div>
<div class="t" style="left:3044.5px;top:1970.1px;font-size:46.8px;color:#1f1a15;font-weight:bold;transform:scaleX(0.633);-webkit-text-stroke:1.6px #1f1a15;word-spacing:-4px;">Vir. B. Libros</div>
<div class="t" style="left:3044.5px;top:2066.1px;font-size:46.8px;color:#7e1f56;font-weight:bold;transform:scaleX(0.5821);-webkit-text-stroke:1.6px #7e1f56;word-spacing:-4px;">Campana 21:06</div>
<div class="t" style="left:3044.5px;top:2162.2px;font-size:46.8px;color:#7e1f56;font-weight:bold;transform:scaleX(0.633);-webkit-text-stroke:1.6px #7e1f56;word-spacing:-4px;">Plaza 21:46</div>
<div class="t" style="left:3044.5px;top:2258.2px;font-size:46.8px;color:#7e1f56;font-weight:bold;transform:scaleX(0.5984);-webkit-text-stroke:1.6px #7e1f56;word-spacing:-4px;">S. Miguel 22:12</div>
<div class="t" style="left:3044.5px;top:2354.2px;font-size:46.8px;color:#7e1f56;font-weight:bold;transform:scaleX(0.633);-webkit-text-stroke:1.6px #7e1f56;word-spacing:-4px;">Palos 22:31</div>
<div class="t" style="left:3044.5px;top:2450.3px;font-size:46.8px;color:#1f1a15;font-weight:bold;transform:scaleX(0.633);-webkit-text-stroke:1.6px #1f1a15;word-spacing:-4px;">Francos</div>
<div class="t" style="left:3044.5px;top:2546.3px;font-size:46.8px;color:#1f1a15;font-weight:bold;transform:scaleX(0.633);-webkit-text-stroke:1.6px #1f1a15;word-spacing:-4px;">Cuna</div>
<div class="t" style="left:3044.5px;top:2642.4px;font-size:46.8px;color:#1f1a15;font-weight:bold;transform:scaleX(0.633);-webkit-text-stroke:1.6px #1f1a15;word-spacing:-4px;">J. Lasso Vega</div>
<div class="t" style="left:3044.5px;top:2738.4px;font-size:46.8px;color:#1f1a15;font-weight:bold;transform:scaleX(0.633);-webkit-text-stroke:1.6px #1f1a15;word-spacing:-4px;">Baños</div>
<div class="t" style="left:3044.5px;top:2834.4px;font-size:46.8px;color:#1f1a15;font-weight:bold;transform:scaleX(0.633);-webkit-text-stroke:1.6px #1f1a15;word-spacing:-4px;">Entrada</div>
<div class="t" style="left:3254.0px;top:1874.0px;font-size:46.8px;color:#1f1a15;font-weight:bold;transform:scaleX(0.633);-webkit-text-stroke:1.6px #1f1a15;word-spacing:-4px;">Salida</div>
<div class="t" style="left:3254.0px;top:1970.1px;font-size:46.8px;color:#1f1a15;font-weight:bold;transform:scaleX(0.633);-webkit-text-stroke:1.6px #1f1a15;word-spacing:-4px;">Alfonso XII</div>
<div class="t" style="left:3254.0px;top:2066.1px;font-size:46.8px;color:#7e1f56;font-weight:bold;transform:scaleX(0.5953);-webkit-text-stroke:1.6px #7e1f56;word-spacing:-4px;">Campana 21:06</div>
<div class="t" style="left:3254.0px;top:2162.2px;font-size:46.8px;color:#7e1f56;font-weight:bold;transform:scaleX(0.633);-webkit-text-stroke:1.6px #7e1f56;word-spacing:-4px;">Plaza 21:46</div>
<div class="t" style="left:3254.0px;top:2258.2px;font-size:46.8px;color:#7e1f56;font-weight:bold;transform:scaleX(0.6119);-webkit-text-stroke:1.6px #7e1f56;word-spacing:-4px;">S. Miguel 22:12</div>
<div class="t" style="left:3254.0px;top:2354.2px;font-size:46.8px;color:#7e1f56;font-weight:bold;transform:scaleX(0.633);-webkit-text-stroke:1.6px #7e1f56;word-spacing:-4px;">Palos 22:31</div>
<div class="t" style="left:3254.0px;top:2450.3px;font-size:46.8px;color:#1f1a15;font-weight:bold;transform:scaleX(0.633);-webkit-text-stroke:1.6px #1f1a15;word-spacing:-4px;">Francos</div>
<div class="t" style="left:3254.0px;top:2546.3px;font-size:46.8px;color:#1f1a15;font-weight:bold;transform:scaleX(0.633);-webkit-text-stroke:1.6px #1f1a15;word-spacing:-4px;">Villegas</div>
<div class="t" style="left:3254.0px;top:2642.4px;font-size:46.8px;color:#1f1a15;font-weight:bold;transform:scaleX(0.633);-webkit-text-stroke:1.6px #1f1a15;word-spacing:-4px;">Tetuán</div>
<div class="t" style="left:3254.0px;top:2738.4px;font-size:46.8px;color:#1f1a15;font-weight:bold;transform:scaleX(0.633);-webkit-text-stroke:1.6px #1f1a15;word-spacing:-4px;">Campana</div>
<div class="t" style="left:3254.0px;top:2834.4px;font-size:46.8px;color:#1f1a15;font-weight:bold;transform:scaleX(0.633);-webkit-text-stroke:1.6px #1f1a15;word-spacing:-4px;">V. B. Libros</div>
<div class="t" style="left:3254.0px;top:2930.5px;font-size:46.8px;color:#1f1a15;font-weight:bold;transform:scaleX(0.633);-webkit-text-stroke:1.6px #1f1a15;word-spacing:-4px;">Entrada 1:10</div>
<div class="t" style="left:3462.5px;top:1970.1px;font-size:46.8px;color:#1f1a15;font-weight:bold;transform:scaleX(0.633);-webkit-text-stroke:1.6px #1f1a15;word-spacing:-4px;">Salida 20:40</div>
<div class="t" style="left:3462.5px;top:2066.1px;font-size:46.8px;color:#1f1a15;font-weight:bold;transform:scaleX(0.633);-webkit-text-stroke:1.6px #1f1a15;word-spacing:-4px;">San Vicente</div>
<div class="t" style="left:3462.5px;top:2162.2px;font-size:46.8px;color:#7e1f56;font-weight:bold;transform:scaleX(0.5953);-webkit-text-stroke:1.6px #7e1f56;word-spacing:-4px;">Campana 21:38</div>
<div class="t" style="left:3462.5px;top:2258.2px;font-size:46.8px;color:#7e1f56;font-weight:bold;transform:scaleX(0.633);-webkit-text-stroke:1.6px #7e1f56;word-spacing:-4px;">Plaza 22:18</div>
<div class="t" style="left:3462.5px;top:2354.2px;font-size:46.8px;color:#7e1f56;font-weight:bold;transform:scaleX(0.6119);-webkit-text-stroke:1.6px #7e1f56;word-spacing:-4px;">S. Miguel 22:44</div>
<div class="t" style="left:3462.5px;top:2450.3px;font-size:46.8px;color:#7e1f56;font-weight:bold;transform:scaleX(0.633);-webkit-text-stroke:1.6px #7e1f56;word-spacing:-4px;">Palos 23:03</div>
<div class="t" style="left:3462.5px;top:2546.3px;font-size:46.8px;color:#1f1a15;font-weight:bold;transform:scaleX(0.633);-webkit-text-stroke:1.6px #1f1a15;word-spacing:-4px;">Francos</div>
<div class="t" style="left:3462.5px;top:2642.4px;font-size:46.8px;color:#1f1a15;font-weight:bold;transform:scaleX(0.633);-webkit-text-stroke:1.6px #1f1a15;word-spacing:-4px;">Pl. Salvador</div>
<div class="t" style="left:3462.5px;top:2738.4px;font-size:46.8px;color:#1f1a15;font-weight:bold;transform:scaleX(0.633);-webkit-text-stroke:1.6px #1f1a15;word-spacing:-4px;">Tetuán</div>
<div class="t" style="left:3462.5px;top:2834.4px;font-size:46.8px;color:#1f1a15;font-weight:bold;transform:scaleX(0.633);-webkit-text-stroke:1.6px #1f1a15;word-spacing:-4px;">Alfonso XII</div>
<div class="t" style="left:3462.5px;top:2930.5px;font-size:46.8px;color:#1f1a15;font-weight:bold;transform:scaleX(0.633);-webkit-text-stroke:1.6px #1f1a15;word-spacing:-4px;">Entrada 1:55</div>
<div class="t" style="left:3673.0px;top:1489.9px;font-size:46.8px;color:#1f1a15;font-weight:bold;transform:scaleX(0.633);-webkit-text-stroke:1.6px #1f1a15;word-spacing:-4px;">Salida 18:15</div>
<div class="t" style="left:3673.0px;top:1585.9px;font-size:46.8px;color:#1f1a15;font-weight:bold;transform:scaleX(0.633);-webkit-text-stroke:1.6px #1f1a15;word-spacing:-4px;">Arfe</div>
<div class="t" style="left:3673.0px;top:1682.0px;font-size:46.8px;color:#1f1a15;font-weight:bold;transform:scaleX(0.633);-webkit-text-stroke:1.6px #1f1a15;word-spacing:-4px;">Castelar</div>
<div class="t" style="left:3673.0px;top:1778.0px;font-size:46.8px;color:#1f1a15;font-weight:bold;transform:scaleX(0.633);-webkit-text-stroke:1.6px #1f1a15;word-spacing:-4px;">Doña Guiomar</div>
<div class="t" style="left:3673.0px;top:1874.0px;font-size:46.8px;color:#1f1a15;font-weight:bold;transform:scaleX(0.633);-webkit-text-stroke:1.6px #1f1a15;word-spacing:-4px;">Zaragoza</div>
<div class="t" style="left:3673.0px;top:1970.1px;font-size:46.8px;color:#1f1a15;font-weight:bold;transform:scaleX(0.633);-webkit-text-stroke:1.6px #1f1a15;word-spacing:-4px;">San Pablo</div>
<div class="t" style="left:3673.0px;top:2066.1px;font-size:46.8px;color:#1f1a15;font-weight:bold;transform:scaleX(0.633);-webkit-text-stroke:1.6px #1f1a15;word-spacing:-4px;">Rioja</div>
<div class="t" style="left:3673.0px;top:2162.2px;font-size:46.8px;color:#7e1f56;font-weight:bold;transform:scaleX(0.5982);-webkit-text-stroke:1.6px #7e1f56;word-spacing:-4px;">Campana 21:38</div>
<div class="t" style="left:3673.0px;top:2258.2px;font-size:46.8px;color:#7e1f56;font-weight:bold;transform:scaleX(0.633);-webkit-text-stroke:1.6px #7e1f56;word-spacing:-4px;">Plaza 22:18</div>
<div class="t" style="left:3673.0px;top:2354.2px;font-size:46.8px;color:#7e1f56;font-weight:bold;transform:scaleX(0.615);-webkit-text-stroke:1.6px #7e1f56;word-spacing:-4px;">S. Miguel 22:24</div>
<div class="t" style="left:3673.0px;top:2450.3px;font-size:46.8px;color:#7e1f56;font-weight:bold;transform:scaleX(0.633);-webkit-text-stroke:1.6px #7e1f56;word-spacing:-4px;">Palos 23:03</div>
<div class="t" style="left:3673.0px;top:2546.3px;font-size:46.8px;color:#1f1a15;font-weight:bold;transform:scaleX(0.633);-webkit-text-stroke:1.6px #1f1a15;word-spacing:-4px;">M. Indalecio P.</div>
<div class="t" style="left:3673.0px;top:2642.4px;font-size:46.8px;color:#1f1a15;font-weight:bold;transform:scaleX(0.633);-webkit-text-stroke:1.6px #1f1a15;word-spacing:-4px;">Entrada 0.15</div>
<div class="t" style="left:3883.5px;top:1682.0px;font-size:46.8px;color:#1f1a15;font-weight:bold;transform:scaleX(0.633);-webkit-text-stroke:1.6px #1f1a15;word-spacing:-4px;">Salida</div>
<div class="t" style="left:3883.5px;top:1778.0px;font-size:46.8px;color:#1f1a15;font-weight:bold;transform:scaleX(0.633);-webkit-text-stroke:1.6px #1f1a15;word-spacing:-4px;">Arfe</div>
<div class="t" style="left:3883.5px;top:1874.0px;font-size:46.8px;color:#1f1a15;font-weight:bold;transform:scaleX(0.633);-webkit-text-stroke:1.6px #1f1a15;word-spacing:-4px;">Castelar</div>
<div class="t" style="left:3883.5px;top:1970.1px;font-size:46.8px;color:#1f1a15;font-weight:bold;transform:scaleX(0.633);-webkit-text-stroke:1.6px #1f1a15;word-spacing:-4px;">Zaragoza</div>
<div class="t" style="left:3883.5px;top:2066.1px;font-size:46.8px;color:#1f1a15;font-weight:bold;transform:scaleX(0.633);-webkit-text-stroke:1.6px #1f1a15;word-spacing:-4px;">San Pablo</div>
<div class="t" style="left:3883.5px;top:2162.2px;font-size:46.8px;color:#1f1a15;font-weight:bold;transform:scaleX(0.633);-webkit-text-stroke:1.6px #1f1a15;word-spacing:-4px;">Rioja</div>
<div class="t" style="left:3883.5px;top:2258.2px;font-size:46.8px;color:#7e1f56;font-weight:bold;transform:scaleX(0.5997);-webkit-text-stroke:1.6px #7e1f56;word-spacing:-4px;">Campana 22:09</div>
<div class="t" style="left:3883.5px;top:2354.2px;font-size:46.8px;color:#7e1f56;font-weight:bold;transform:scaleX(0.633);-webkit-text-stroke:1.6px #7e1f56;word-spacing:-4px;">Plaza 22:49</div>
<div class="t" style="left:3883.5px;top:2450.3px;font-size:46.8px;color:#7e1f56;font-weight:bold;transform:scaleX(0.6165);-webkit-text-stroke:1.6px #7e1f56;word-spacing:-4px;">S. Miguel 23:15</div>
<div class="t" style="left:3883.5px;top:2546.3px;font-size:46.8px;color:#7e1f56;font-weight:bold;transform:scaleX(0.633);-webkit-text-stroke:1.6px #7e1f56;word-spacing:-4px;">Palos 23:34</div>
<div class="t" style="left:3883.5px;top:2642.4px;font-size:46.8px;color:#1f1a15;font-weight:bold;transform:scaleX(0.633);-webkit-text-stroke:1.6px #1f1a15;word-spacing:-4px;">Santo Tomás</div>
<div class="t" style="left:3883.5px;top:2738.4px;font-size:46.8px;color:#1f1a15;font-weight:bold;transform:scaleX(0.633);-webkit-text-stroke:1.6px #1f1a15;word-spacing:-4px;">Almirantazgo</div>
<div class="t" style="left:3883.5px;top:2834.4px;font-size:46.8px;color:#1f1a15;font-weight:bold;transform:scaleX(0.633);-webkit-text-stroke:1.6px #1f1a15;word-spacing:-4px;">Dos de Mayo</div>
<div class="t" style="left:3883.5px;top:2930.5px;font-size:46.8px;color:#1f1a15;font-weight:bold;transform:scaleX(0.633);-webkit-text-stroke:1.6px #1f1a15;word-spacing:-4px;">Entrada 1:20</div>
<div class="t" style="left:4100.0px;top:1970.1px;font-size:46.8px;color:#1f1a15;font-weight:bold;transform:scaleX(0.633);-webkit-text-stroke:1.6px #1f1a15;word-spacing:-4px;">Salida 20:40</div>
<div class="t" style="left:4100.0px;top:2066.1px;font-size:46.8px;color:#1f1a15;font-weight:bold;transform:scaleX(0.633);-webkit-text-stroke:1.6px #1f1a15;word-spacing:-4px;">Pl. Museo</div>
<div class="t" style="left:4100.0px;top:2162.2px;font-size:46.8px;color:#1f1a15;font-weight:bold;transform:scaleX(0.633);-webkit-text-stroke:1.6px #1f1a15;word-spacing:-4px;">Alfonso XII</div>
<div class="t" style="left:4100.0px;top:2258.2px;font-size:46.8px;color:#7e1f56;font-weight:bold;transform:scaleX(0.5851);-webkit-text-stroke:1.6px #7e1f56;word-spacing:-4px;">Campana 22:09</div>
<div class="t" style="left:4100.0px;top:2354.2px;font-size:46.8px;color:#7e1f56;font-weight:bold;transform:scaleX(0.633);-webkit-text-stroke:1.6px #7e1f56;word-spacing:-4px;">Plaza 22:49</div>
<div class="t" style="left:4100.0px;top:2450.3px;font-size:46.8px;color:#7e1f56;font-weight:bold;transform:scaleX(0.6014);-webkit-text-stroke:1.6px #7e1f56;word-spacing:-4px;">S. Miguel 23:15</div>
<div class="t" style="left:4100.0px;top:2546.3px;font-size:46.8px;color:#7e1f56;font-weight:bold;transform:scaleX(0.633);-webkit-text-stroke:1.6px #7e1f56;word-spacing:-4px;">Palos 23:34</div>
<div class="t" style="left:4100.0px;top:2642.4px;font-size:46.8px;color:#1f1a15;font-weight:bold;transform:scaleX(0.633);-webkit-text-stroke:1.6px #1f1a15;word-spacing:-4px;">G. de Vinuesa</div>
<div class="t" style="left:4100.0px;top:2738.4px;font-size:46.8px;color:#1f1a15;font-weight:bold;transform:scaleX(0.633);-webkit-text-stroke:1.6px #1f1a15;word-spacing:-4px;">Castelar</div>
<div class="t" style="left:4100.0px;top:2834.4px;font-size:46.8px;color:#1f1a15;font-weight:bold;transform:scaleX(0.633);-webkit-text-stroke:1.6px #1f1a15;word-spacing:-4px;">Pl. Molviedro</div>
<div class="t" style="left:4100.0px;top:2930.5px;font-size:46.8px;color:#1f1a15;font-weight:bold;transform:scaleX(0.633);-webkit-text-stroke:1.6px #1f1a15;word-spacing:-4px;">Zaragoza</div>
<div class="t" style="left:4100.0px;top:3026.5px;font-size:46.8px;color:#1f1a15;font-weight:bold;transform:scaleX(0.633);-webkit-text-stroke:1.6px #1f1a15;word-spacing:-4px;">Gravina</div>
<div class="t" style="left:4100.0px;top:3122.6px;font-size:46.8px;color:#1f1a15;font-weight:bold;transform:scaleX(0.633);-webkit-text-stroke:1.6px #1f1a15;word-spacing:-4px;">Entrada</div>
<div class="t" style="left:4309.0px;top:2066.1px;font-size:46.8px;color:#1f1a15;font-weight:bold;transform:scaleX(0.633);-webkit-text-stroke:1.6px #1f1a15;word-spacing:-4px;">Salida 21:15</div>
<div class="t" style="left:4309.0px;top:2162.2px;font-size:46.8px;color:#1f1a15;font-weight:bold;transform:scaleX(0.633);-webkit-text-stroke:1.6px #1f1a15;word-spacing:-4px;">Pl. Museo</div>
<div class="t" style="left:4309.0px;top:2258.2px;font-size:46.8px;color:#1f1a15;font-weight:bold;transform:scaleX(0.633);-webkit-text-stroke:1.6px #1f1a15;word-spacing:-4px;">Alfonso XII</div>
<div class="t" style="left:4309.0px;top:2354.2px;font-size:46.8px;color:#7e1f56;font-weight:bold;transform:scaleX(0.5748);-webkit-text-stroke:1.6px #7e1f56;word-spacing:-4px;">Campana 22:50</div>
<div class="t" style="left:4309.0px;top:2450.3px;font-size:46.8px;color:#7e1f56;font-weight:bold;transform:scaleX(0.633);-webkit-text-stroke:1.6px #7e1f56;word-spacing:-4px;">Plaza 23:30</div>
<div class="t" style="left:4309.0px;top:2546.3px;font-size:46.8px;color:#7e1f56;font-weight:bold;transform:scaleX(0.5908);-webkit-text-stroke:1.6px #7e1f56;word-spacing:-4px;">S. Miguel 23:56</div>
<div class="t" style="left:4309.0px;top:2642.4px;font-size:46.8px;color:#7e1f56;font-weight:bold;transform:scaleX(0.633);-webkit-text-stroke:1.6px #7e1f56;word-spacing:-4px;">Palos 0:15</div>
<div class="t" style="left:4309.0px;top:2738.4px;font-size:46.8px;color:#1f1a15;font-weight:bold;transform:scaleX(0.633);-webkit-text-stroke:1.6px #1f1a15;word-spacing:-4px;">Alemanes</div>
<div class="t" style="left:4309.0px;top:2834.4px;font-size:46.8px;color:#1f1a15;font-weight:bold;transform:scaleX(0.633);-webkit-text-stroke:1.6px #1f1a15;word-spacing:-4px;">Castelar</div>
<div class="t" style="left:4309.0px;top:2930.5px;font-size:46.8px;color:#1f1a15;font-weight:bold;transform:scaleX(0.633);-webkit-text-stroke:1.6px #1f1a15;word-spacing:-4px;">Pl. Molviedro</div>
<div class="t" style="left:4309.0px;top:3026.5px;font-size:46.8px;color:#1f1a15;font-weight:bold;transform:scaleX(0.633);-webkit-text-stroke:1.6px #1f1a15;word-spacing:-4px;">Zaragoza</div>
<div class="t" style="left:4309.0px;top:3122.6px;font-size:46.8px;color:#1f1a15;font-weight:bold;transform:scaleX(0.633);-webkit-text-stroke:1.6px #1f1a15;word-spacing:-4px;">Entrada 3:15</div>
<svg class="r" style="left:92.5px;top:274.5px" width="160" height="160" viewBox="-80 -80 160 160"><circle cx="0" cy="0" r="69.4" fill="none" stroke="#b97e99" stroke-width="8.8"/><g stroke="#7d6a72" stroke-width="1.6"><line x1="0" y1="-65" x2="0" y2="-58"/><line x1="0" y1="58" x2="0" y2="66"/><line x1="-64" y1="0" x2="-57" y2="0"/><line x1="57" y1="0" x2="64" y2="0"/></g><g transform="translate(-1.4,0)"><rect x="-4.2" y="-52" width="8.4" height="54" fill="#b97e99"/><line x1="0" y1="4" x2="40.5" y2="38.5" stroke="#b97e99" stroke-width="3.8" stroke-linecap="round"/><circle cx="-0.8" cy="4.2" r="8.8" fill="#b97e99"/><circle cx="-1.2" cy="4.5" r="1.2" fill="#fff"/></g></svg>
<svg class="r" style="left:4534px;top:281px" width="160" height="160" viewBox="-80 -80 160 160"><circle cx="0" cy="0" r="69.4" fill="none" stroke="#b97e99" stroke-width="8.8"/><g stroke="#7d6a72" stroke-width="1.6"><line x1="0" y1="-65" x2="0" y2="-58"/><line x1="0" y1="58" x2="0" y2="66"/><line x1="-64" y1="0" x2="-57" y2="0"/><line x1="57" y1="0" x2="64" y2="0"/></g><g transform="translate(-1.4,0)"><rect x="-4.2" y="-52" width="8.4" height="54" fill="#b97e99"/><line x1="0" y1="4" x2="40.5" y2="38.5" stroke="#b97e99" stroke-width="3.8" stroke-linecap="round"/><circle cx="-0.8" cy="4.2" r="8.8" fill="#b97e99"/><circle cx="-1.2" cy="4.5" r="2.6" fill="#2a0a18"/></g></svg>
<div class="t" style="left:239.4px;top:3239.9px;font-size:46px;color:#1e1b1a;font-weight:bold;transform:scaleX(0.934);-webkit-text-stroke:1.5px #1e1b1a;">28</div>
<div class="r" style="left:301.4px;top:3260.4px;width:7.2px;height:7.2px;border-radius:50%;background:#962a5c;"></div>
<div class="t" style="left:324.1px;top:3239.9px;font-size:46px;color:#962a5c;font-weight:bold;transform:scaleX(0.8553);-webkit-text-stroke:1.5px #962a5c;">Diario de Sevilla</div>
<div class="r" style="left:641.9px;top:3260.4px;width:7.2px;height:7.2px;border-radius:50%;background:#962a5c;"></div>
<div class="t" style="left:666.0px;top:3239.0px;font-size:47px;color:#962a5c;font-weight:normal;transform:scaleX(0.9054);">El Programa</div>
<div class="t" style="left:3786.6px;top:3239.0px;font-size:47px;color:#962a5c;font-weight:normal;transform:scaleX(0.9027);">El Programa</div>
<div class="r" style="left:4038.4px;top:3260.4px;width:7.2px;height:7.2px;border-radius:50%;background:#962a5c;"></div>
<div class="t" style="left:4062.3px;top:3239.9px;font-size:46px;color:#962a5c;font-weight:bold;transform:scaleX(0.8575);-webkit-text-stroke:1.5px #962a5c;">Diario de Sevilla</div>
<div class="r" style="left:4382.4px;top:3260.4px;width:7.2px;height:7.2px;border-radius:50%;background:#962a5c;"></div>
<div class="t" style="left:4399.7px;top:3239.9px;font-size:46px;color:#1e1b1a;font-weight:bold;transform:scaleX(0.9188);-webkit-text-stroke:1.5px #1e1b1a;">29</div>
</body></html>
